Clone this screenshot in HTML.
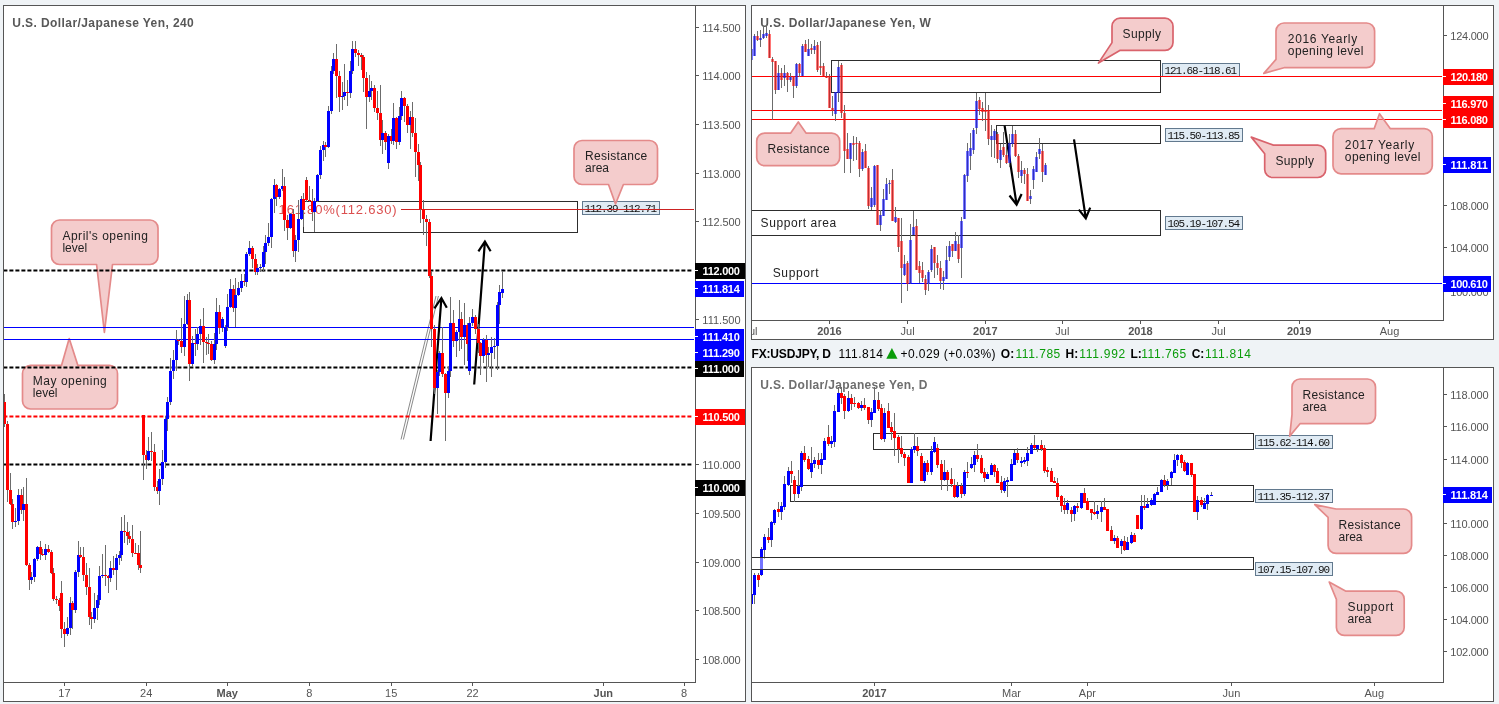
<!DOCTYPE html>
<html><head><meta charset="utf-8"><title>USD/JPY</title>
<style>html,body{margin:0;padding:0;background:#eff3f6;}body{width:1499px;height:704px;overflow:hidden;font-family:"Liberation Sans",sans-serif;}svg{display:block;will-change:transform;}</style>
</head><body>
<svg width="1499" height="704" viewBox="0 0 1499 704">
<rect x="0" y="0" width="1499" height="704" fill="#eff3f6"/>
<defs>
<clipPath id="c1"><rect x="4" y="6" width="691" height="676"/></clipPath>
<clipPath id="c2"><rect x="752" y="6" width="691" height="314"/></clipPath>
<clipPath id="c3"><rect x="752" y="368" width="691" height="314"/></clipPath>
<clipPath id="c2b"><rect x="752" y="321" width="691" height="18"/></clipPath>
</defs>
<rect x="3.5" y="5.5" width="742" height="696" fill="#ffffff" stroke="#555555" stroke-width="1" shape-rendering="crispEdges"/>
<line x1="695.5" y1="5.5" x2="695.5" y2="682.5" stroke="#555555" stroke-width="1" shape-rendering="crispEdges"/>
<line x1="3.5" y1="682.5" x2="695.5" y2="682.5" stroke="#555555" stroke-width="1" shape-rendering="crispEdges"/>
<text x="12.3" y="26.6" font-family="Liberation Sans, sans-serif" font-size="12" fill="#585858" font-weight="bold" textLength="181.5" lengthAdjust="spacing" >U.S. Dollar/Japanese Yen, 240</text>
<line x1="696" y1="27.5" x2="699" y2="27.5" stroke="#555555" stroke-width="1" shape-rendering="crispEdges"/>
<text x="702.3" y="32.1" font-family="Liberation Sans, sans-serif" font-size="11" fill="#555555" textLength="38.3" lengthAdjust="spacing" >114.500</text>
<line x1="696" y1="75.5" x2="699" y2="75.5" stroke="#555555" stroke-width="1" shape-rendering="crispEdges"/>
<text x="702.3" y="80.1" font-family="Liberation Sans, sans-serif" font-size="11" fill="#555555" textLength="38.3" lengthAdjust="spacing" >114.000</text>
<line x1="696" y1="124.5" x2="699" y2="124.5" stroke="#555555" stroke-width="1" shape-rendering="crispEdges"/>
<text x="702.3" y="129.1" font-family="Liberation Sans, sans-serif" font-size="11" fill="#555555" textLength="38.3" lengthAdjust="spacing" >113.500</text>
<line x1="696" y1="173.5" x2="699" y2="173.5" stroke="#555555" stroke-width="1" shape-rendering="crispEdges"/>
<text x="702.3" y="178.1" font-family="Liberation Sans, sans-serif" font-size="11" fill="#555555" textLength="38.3" lengthAdjust="spacing" >113.000</text>
<line x1="696" y1="221.5" x2="699" y2="221.5" stroke="#555555" stroke-width="1" shape-rendering="crispEdges"/>
<text x="702.3" y="226.1" font-family="Liberation Sans, sans-serif" font-size="11" fill="#555555" textLength="38.3" lengthAdjust="spacing" >112.500</text>
<line x1="696" y1="319.5" x2="699" y2="319.5" stroke="#555555" stroke-width="1" shape-rendering="crispEdges"/>
<text x="702.3" y="324.1" font-family="Liberation Sans, sans-serif" font-size="11" fill="#555555" textLength="38.3" lengthAdjust="spacing" >111.500</text>
<line x1="696" y1="464.5" x2="699" y2="464.5" stroke="#555555" stroke-width="1" shape-rendering="crispEdges"/>
<text x="702.3" y="469.1" font-family="Liberation Sans, sans-serif" font-size="11" fill="#555555" textLength="38.3" lengthAdjust="spacing" >110.000</text>
<line x1="696" y1="513.5" x2="699" y2="513.5" stroke="#555555" stroke-width="1" shape-rendering="crispEdges"/>
<text x="702.3" y="518.1" font-family="Liberation Sans, sans-serif" font-size="11" fill="#555555" textLength="38.3" lengthAdjust="spacing" >109.500</text>
<line x1="696" y1="562.5" x2="699" y2="562.5" stroke="#555555" stroke-width="1" shape-rendering="crispEdges"/>
<text x="702.3" y="567.1" font-family="Liberation Sans, sans-serif" font-size="11" fill="#555555" textLength="38.3" lengthAdjust="spacing" >109.000</text>
<line x1="696" y1="610.5" x2="699" y2="610.5" stroke="#555555" stroke-width="1" shape-rendering="crispEdges"/>
<text x="702.3" y="615.1" font-family="Liberation Sans, sans-serif" font-size="11" fill="#555555" textLength="38.3" lengthAdjust="spacing" >108.500</text>
<line x1="696" y1="659.5" x2="699" y2="659.5" stroke="#555555" stroke-width="1" shape-rendering="crispEdges"/>
<text x="702.3" y="664.1" font-family="Liberation Sans, sans-serif" font-size="11" fill="#555555" textLength="38.3" lengthAdjust="spacing" >108.000</text>
<g clip-path="url(#c1)">
<rect x="582.5" y="201.5" width="77" height="13" fill="#e0ebf4" stroke="#62798e" stroke-width="1" shape-rendering="crispEdges"/>
<text x="584.6" y="212" font-family="Liberation Mono, sans-serif" font-size="11" fill="#111111" textLength="72.5" lengthAdjust="spacing" >112.39-112.71</text>
<path d="M59.5 220 L150 220 A8 8 0 0 1 158 228 L158 256.5 A8 8 0 0 1 150 264.5 L112.5 264.5 L104.4 332.5 L96.6 264.5 L59.5 264.5 A8 8 0 0 1 51.5 256.5 L51.5 228 A8 8 0 0 1 59.5 220 Z" fill="rgba(234,153,153,0.5)" stroke="#e48a8a" stroke-width="1.7" stroke-linejoin="round"/>
<text x="62.4" y="240.4" font-family="Liberation Sans, sans-serif" font-size="12" fill="#222222" textLength="85.6" lengthAdjust="spacing" >April's opening</text>
<text x="62.4" y="251.8" font-family="Liberation Sans, sans-serif" font-size="12" fill="#222222" >level</text>
<path d="M30.5 365.4 L61.5 365.4 L69.2 338.5 L77.9 365.4 L109.5 365.4 A8 8 0 0 1 117.5 373.4 L117.5 401 A8 8 0 0 1 109.5 409 L30.5 409 A8 8 0 0 1 22.5 401 L22.5 373.4 A8 8 0 0 1 30.5 365.4 Z" fill="rgba(234,153,153,0.5)" stroke="#e48a8a" stroke-width="1.7" stroke-linejoin="round"/>
<text x="32.8" y="385" font-family="Liberation Sans, sans-serif" font-size="12" fill="#222222" textLength="74" lengthAdjust="spacing" >May opening</text>
<text x="32.8" y="396.6" font-family="Liberation Sans, sans-serif" font-size="12" fill="#222222" >level</text>
<path d="M582 140.5 L649.5 140.5 A8 8 0 0 1 657.5 148.5 L657.5 176.5 A8 8 0 0 1 649.5 184.5 L623.4 184.5 L615.5 204 L608.5 184.5 L582 184.5 A8 8 0 0 1 574 176.5 L574 148.5 A8 8 0 0 1 582 140.5 Z" fill="rgba(234,153,153,0.5)" stroke="#e48a8a" stroke-width="1.7" stroke-linejoin="round"/>
<text x="585" y="159.8" font-family="Liberation Sans, sans-serif" font-size="12" fill="#222222" textLength="62.2" lengthAdjust="spacing" >Resistance</text>
<text x="585" y="171.8" font-family="Liberation Sans, sans-serif" font-size="12" fill="#222222" >area</text>
<line x1="401" y1="439.5" x2="436" y2="296" stroke="#8a8a8a" stroke-width="1" />
<line x1="403.4" y1="439.5" x2="438.4" y2="296" stroke="#8a8a8a" stroke-width="1" />
<rect x="303.5" y="201.5" width="274" height="31" fill="none" stroke="#2d2d2d" stroke-width="1" shape-rendering="crispEdges"/>
<line x1="400.5" y1="209.5" x2="694" y2="209.5" stroke="#cc2222" stroke-width="1" shape-rendering="crispEdges"/>
<text x="278.6" y="214.2" font-family="Liberation Sans, sans-serif" font-size="13" fill="#db4f4f" textLength="118" lengthAdjust="spacing" >161.80%(112.630)</text>
<line x1="4" y1="327.5" x2="694" y2="327.5" stroke="#0000ff" stroke-width="1" shape-rendering="crispEdges"/>
<line x1="4" y1="339.5" x2="694" y2="339.5" stroke="#0000ff" stroke-width="1" shape-rendering="crispEdges"/>
<line x1="3.4" y1="270.43" x2="692" y2="270.43" stroke="#000000" stroke-width="2" stroke-dasharray="4 2"/>
<line x1="3.4" y1="367.43" x2="692" y2="367.43" stroke="#000000" stroke-width="2" stroke-dasharray="4 2"/>
<line x1="3.4" y1="464.43" x2="692" y2="464.43" stroke="#000000" stroke-width="2" stroke-dasharray="4 2"/>
<line x1="3.4" y1="416.43" x2="692" y2="416.43" stroke="#ff0000" stroke-width="2" stroke-dasharray="4 2"/>
<path d="M430.6 441 L441.4 298 M434.4 308.3 L441.4 298 L446.8 307.8" fill="none" stroke="#000" stroke-width="2.2" stroke-linecap="butt" stroke-linejoin="miter"/>
<path d="M474.2 384.5 L484.9 241.5 M478.4 251.3 L484.9 241.5 L490.6 251.3" fill="none" stroke="#000" stroke-width="2.2" stroke-linecap="butt" stroke-linejoin="miter"/>
<g shape-rendering="crispEdges">
<rect x="4" y="394" width="1" height="32.5" fill="#6c6c6c"/>
<rect x="3" y="402" width="3" height="22" fill="#ff0000"/>
<rect x="7" y="420.5" width="1" height="81.1" fill="#6c6c6c"/>
<rect x="6" y="424" width="3" height="66" fill="#ff0000"/>
<rect x="10" y="473.3" width="1" height="32.1" fill="#6c6c6c"/>
<rect x="9" y="490" width="3" height="14" fill="#ff0000"/>
<rect x="12" y="499.4" width="1" height="29.2" fill="#6c6c6c"/>
<rect x="11" y="504" width="3" height="18" fill="#ff0000"/>
<rect x="15" y="508" width="1" height="19.4" fill="#6c6c6c"/>
<rect x="14" y="521" width="3" height="1" fill="#0000ff"/>
<rect x="18" y="489" width="1" height="36" fill="#6c6c6c"/>
<rect x="17" y="495" width="3" height="26" fill="#0000ff"/>
<rect x="21" y="489" width="1" height="25" fill="#6c6c6c"/>
<rect x="20" y="495" width="3" height="15" fill="#ff0000"/>
<rect x="23" y="487" width="1" height="33.7" fill="#6c6c6c"/>
<rect x="22" y="504" width="3" height="6" fill="#0000ff"/>
<rect x="26" y="478" width="1" height="87.7" fill="#6c6c6c"/>
<rect x="25" y="504" width="3" height="61" fill="#ff0000"/>
<rect x="29" y="562.7" width="1" height="27" fill="#6c6c6c"/>
<rect x="28" y="565" width="3" height="15" fill="#ff0000"/>
<rect x="31" y="572.4" width="1" height="11.3" fill="#6c6c6c"/>
<rect x="30" y="577" width="3" height="3" fill="#0000ff"/>
<rect x="34" y="558.4" width="1" height="24" fill="#6c6c6c"/>
<rect x="33" y="559" width="3" height="18" fill="#0000ff"/>
<rect x="37" y="546.3" width="1" height="15.1" fill="#6c6c6c"/>
<rect x="36" y="547" width="3" height="12" fill="#0000ff"/>
<rect x="40" y="541.3" width="1" height="19.1" fill="#6c6c6c"/>
<rect x="39" y="547" width="3" height="7" fill="#ff0000"/>
<rect x="42" y="549.4" width="1" height="6.3" fill="#6c6c6c"/>
<rect x="41" y="554" width="3" height="1" fill="#ff0000"/>
<rect x="45" y="544.3" width="1" height="15.4" fill="#6c6c6c"/>
<rect x="44" y="549" width="3" height="6" fill="#0000ff"/>
<rect x="48" y="545.3" width="1" height="8.1" fill="#6c6c6c"/>
<rect x="47" y="549" width="3" height="3" fill="#ff0000"/>
<rect x="51" y="550.4" width="1" height="24" fill="#6c6c6c"/>
<rect x="50" y="552" width="3" height="21" fill="#ff0000"/>
<rect x="53" y="568.4" width="1" height="33" fill="#6c6c6c"/>
<rect x="52" y="573" width="3" height="26" fill="#ff0000"/>
<rect x="56" y="596.4" width="1" height="7.3" fill="#6c6c6c"/>
<rect x="55" y="599" width="3" height="1" fill="#ff0000"/>
<rect x="59" y="597.7" width="1" height="13.5" fill="#6c6c6c"/>
<rect x="58" y="600" width="3" height="6" fill="#ff0000"/>
<rect x="61" y="580.7" width="1" height="56.9" fill="#6c6c6c"/>
<rect x="60" y="593" width="3" height="36" fill="#ff0000"/>
<rect x="64" y="622" width="1" height="24.9" fill="#6c6c6c"/>
<rect x="63" y="629" width="3" height="5" fill="#ff0000"/>
<rect x="67" y="617.3" width="1" height="18.3" fill="#6c6c6c"/>
<rect x="66" y="628" width="3" height="6" fill="#0000ff"/>
<rect x="70" y="597" width="1" height="37.9" fill="#6c6c6c"/>
<rect x="69" y="603" width="3" height="25" fill="#0000ff"/>
<rect x="72" y="601.2" width="1" height="28.1" fill="#6c6c6c"/>
<rect x="71" y="603" width="3" height="7" fill="#ff0000"/>
<rect x="75" y="570" width="1" height="42.7" fill="#6c6c6c"/>
<rect x="74" y="572" width="3" height="38" fill="#0000ff"/>
<rect x="78" y="541.3" width="1" height="35.7" fill="#6c6c6c"/>
<rect x="77" y="555" width="3" height="17" fill="#0000ff"/>
<rect x="80" y="547.3" width="1" height="11.1" fill="#6c6c6c"/>
<rect x="79" y="555" width="3" height="2" fill="#ff0000"/>
<rect x="83" y="547.3" width="1" height="33.4" fill="#6c6c6c"/>
<rect x="82" y="557" width="3" height="18" fill="#ff0000"/>
<rect x="86" y="563.4" width="1" height="31.3" fill="#6c6c6c"/>
<rect x="85" y="575" width="3" height="12" fill="#ff0000"/>
<rect x="89" y="568" width="1" height="57.4" fill="#6c6c6c"/>
<rect x="88" y="587" width="3" height="30" fill="#ff0000"/>
<rect x="91" y="611.8" width="1" height="17" fill="#6c6c6c"/>
<rect x="90" y="617" width="3" height="2" fill="#ff0000"/>
<rect x="94" y="593.1" width="1" height="30.3" fill="#6c6c6c"/>
<rect x="93" y="608" width="3" height="11" fill="#0000ff"/>
<rect x="97" y="595.3" width="1" height="24.5" fill="#6c6c6c"/>
<rect x="96" y="600" width="3" height="8" fill="#0000ff"/>
<rect x="99" y="566" width="1" height="38.7" fill="#6c6c6c"/>
<rect x="98" y="576" width="3" height="24" fill="#0000ff"/>
<rect x="102" y="554" width="1" height="23.8" fill="#6c6c6c"/>
<rect x="101" y="575" width="3" height="1" fill="#0000ff"/>
<rect x="105" y="545.3" width="1" height="40.7" fill="#6c6c6c"/>
<rect x="104" y="575" width="3" height="1" fill="#ff0000"/>
<rect x="108" y="575" width="1" height="17.7" fill="#6c6c6c"/>
<rect x="107" y="576" width="3" height="2" fill="#ff0000"/>
<rect x="110" y="561.4" width="1" height="20.3" fill="#6c6c6c"/>
<rect x="109" y="568" width="3" height="10" fill="#0000ff"/>
<rect x="113" y="556.3" width="1" height="18.7" fill="#6c6c6c"/>
<rect x="112" y="568" width="3" height="2" fill="#ff0000"/>
<rect x="116" y="554" width="1" height="35.7" fill="#6c6c6c"/>
<rect x="115" y="558" width="3" height="12" fill="#0000ff"/>
<rect x="119" y="551.3" width="1" height="13.4" fill="#6c6c6c"/>
<rect x="118" y="555" width="3" height="3" fill="#0000ff"/>
<rect x="121" y="517" width="1" height="44.4" fill="#6c6c6c"/>
<rect x="120" y="531" width="3" height="24" fill="#0000ff"/>
<rect x="124" y="515.4" width="1" height="28" fill="#6c6c6c"/>
<rect x="123" y="531" width="3" height="1" fill="#ff0000"/>
<rect x="127" y="522" width="1" height="22.8" fill="#6c6c6c"/>
<rect x="126" y="532" width="3" height="4" fill="#ff0000"/>
<rect x="129" y="531.4" width="1" height="12" fill="#6c6c6c"/>
<rect x="128" y="536" width="3" height="3" fill="#ff0000"/>
<rect x="132" y="525" width="1" height="31.8" fill="#6c6c6c"/>
<rect x="131" y="539" width="3" height="14" fill="#ff0000"/>
<rect x="135" y="542.8" width="1" height="11.6" fill="#6c6c6c"/>
<rect x="134" y="553" width="3" height="1" fill="#ff0000"/>
<rect x="138" y="544.8" width="1" height="24.9" fill="#6c6c6c"/>
<rect x="137" y="553" width="3" height="12" fill="#ff0000"/>
<rect x="140" y="531.1" width="1" height="42.3" fill="#6c6c6c"/>
<rect x="139" y="565" width="3" height="3" fill="#ff0000"/>
<rect x="143" y="415" width="1" height="64.8" fill="#6c6c6c"/>
<rect x="142" y="415" width="3" height="40" fill="#ff0000"/>
<rect x="146" y="449.7" width="1" height="19.7" fill="#6c6c6c"/>
<rect x="145" y="455" width="3" height="5" fill="#ff0000"/>
<rect x="148" y="437.1" width="1" height="24.3" fill="#6c6c6c"/>
<rect x="147" y="451" width="3" height="9" fill="#0000ff"/>
<rect x="151" y="432" width="1" height="28.7" fill="#6c6c6c"/>
<rect x="150" y="451" width="3" height="1" fill="#ff0000"/>
<rect x="154" y="444.1" width="1" height="46.7" fill="#6c6c6c"/>
<rect x="153" y="452" width="3" height="35" fill="#ff0000"/>
<rect x="157" y="480.8" width="1" height="13" fill="#6c6c6c"/>
<rect x="156" y="487" width="3" height="4" fill="#ff0000"/>
<rect x="159" y="469.4" width="1" height="35.3" fill="#6c6c6c"/>
<rect x="158" y="479" width="3" height="12" fill="#0000ff"/>
<rect x="162" y="450" width="1" height="35.4" fill="#6c6c6c"/>
<rect x="161" y="462" width="3" height="17" fill="#0000ff"/>
<rect x="165" y="416.4" width="1" height="51.9" fill="#6c6c6c"/>
<rect x="164" y="419" width="3" height="43" fill="#0000ff"/>
<rect x="167" y="397.4" width="1" height="34" fill="#6c6c6c"/>
<rect x="166" y="402" width="3" height="17" fill="#0000ff"/>
<rect x="170" y="358" width="1" height="47.4" fill="#6c6c6c"/>
<rect x="169" y="371" width="3" height="31" fill="#0000ff"/>
<rect x="173" y="350" width="1" height="29.4" fill="#6c6c6c"/>
<rect x="172" y="360" width="3" height="11" fill="#0000ff"/>
<rect x="176" y="330" width="1" height="40.7" fill="#6c6c6c"/>
<rect x="175" y="340" width="3" height="20" fill="#0000ff"/>
<rect x="178" y="339" width="1" height="6" fill="#6c6c6c"/>
<rect x="177" y="340" width="3" height="1" fill="#ff0000"/>
<rect x="181" y="318" width="1" height="35.4" fill="#6c6c6c"/>
<rect x="180" y="341" width="3" height="6" fill="#ff0000"/>
<rect x="184" y="295.8" width="1" height="60.2" fill="#6c6c6c"/>
<rect x="183" y="324" width="3" height="23" fill="#0000ff"/>
<rect x="187" y="293.8" width="1" height="31.2" fill="#6c6c6c"/>
<rect x="186" y="300" width="3" height="24" fill="#0000ff"/>
<rect x="189" y="291.8" width="1" height="89" fill="#6c6c6c"/>
<rect x="188" y="300" width="3" height="64" fill="#ff0000"/>
<rect x="192" y="336" width="1" height="31.4" fill="#6c6c6c"/>
<rect x="191" y="343" width="3" height="21" fill="#0000ff"/>
<rect x="195" y="329.4" width="1" height="26.6" fill="#6c6c6c"/>
<rect x="194" y="343" width="3" height="1" fill="#ff0000"/>
<rect x="197" y="326.7" width="1" height="23.3" fill="#6c6c6c"/>
<rect x="196" y="334" width="3" height="10" fill="#0000ff"/>
<rect x="200" y="319.1" width="1" height="26.3" fill="#6c6c6c"/>
<rect x="199" y="326" width="3" height="8" fill="#0000ff"/>
<rect x="203" y="308" width="1" height="55.4" fill="#6c6c6c"/>
<rect x="202" y="326" width="3" height="16" fill="#ff0000"/>
<rect x="206" y="336.6" width="1" height="18.8" fill="#6c6c6c"/>
<rect x="205" y="342" width="3" height="1" fill="#ff0000"/>
<rect x="208" y="334" width="1" height="20" fill="#6c6c6c"/>
<rect x="207" y="343" width="3" height="1" fill="#ff0000"/>
<rect x="211" y="341" width="1" height="19.7" fill="#6c6c6c"/>
<rect x="210" y="344" width="3" height="16" fill="#ff0000"/>
<rect x="214" y="333.4" width="1" height="30.4" fill="#6c6c6c"/>
<rect x="213" y="344" width="3" height="16" fill="#0000ff"/>
<rect x="216" y="297.8" width="1" height="52.5" fill="#6c6c6c"/>
<rect x="215" y="312" width="3" height="32" fill="#0000ff"/>
<rect x="219" y="304.8" width="1" height="29" fill="#6c6c6c"/>
<rect x="218" y="312" width="3" height="16" fill="#ff0000"/>
<rect x="222" y="317" width="1" height="15" fill="#6c6c6c"/>
<rect x="221" y="319" width="3" height="9" fill="#0000ff"/>
<rect x="225" y="325.4" width="1" height="22.3" fill="#6c6c6c"/>
<rect x="224" y="327" width="3" height="19" fill="#0000ff"/>
<rect x="227" y="294.4" width="1" height="37" fill="#6c6c6c"/>
<rect x="226" y="307" width="3" height="20" fill="#0000ff"/>
<rect x="230" y="279.1" width="1" height="29.3" fill="#6c6c6c"/>
<rect x="229" y="289" width="3" height="18" fill="#0000ff"/>
<rect x="233" y="285.1" width="1" height="26.7" fill="#6c6c6c"/>
<rect x="232" y="289" width="3" height="19" fill="#ff0000"/>
<rect x="235" y="278.1" width="1" height="48.9" fill="#6c6c6c"/>
<rect x="234" y="295" width="3" height="13" fill="#0000ff"/>
<rect x="238" y="281.7" width="1" height="14.7" fill="#6c6c6c"/>
<rect x="237" y="288" width="3" height="7" fill="#0000ff"/>
<rect x="241" y="274.4" width="1" height="17.4" fill="#6c6c6c"/>
<rect x="240" y="281" width="3" height="7" fill="#0000ff"/>
<rect x="244" y="273.7" width="1" height="12" fill="#6c6c6c"/>
<rect x="243" y="281" width="3" height="1" fill="#ff0000"/>
<rect x="246" y="252.4" width="1" height="34.6" fill="#6c6c6c"/>
<rect x="245" y="254" width="3" height="28" fill="#0000ff"/>
<rect x="249" y="241" width="1" height="15.1" fill="#6c6c6c"/>
<rect x="248" y="248" width="3" height="6" fill="#0000ff"/>
<rect x="252" y="245.7" width="1" height="22" fill="#6c6c6c"/>
<rect x="251" y="248" width="3" height="11" fill="#ff0000"/>
<rect x="255" y="253.7" width="1" height="21.4" fill="#6c6c6c"/>
<rect x="254" y="259" width="3" height="13" fill="#ff0000"/>
<rect x="257" y="263.7" width="1" height="11.4" fill="#6c6c6c"/>
<rect x="256" y="268" width="3" height="4" fill="#0000ff"/>
<rect x="260" y="264.4" width="1" height="7.3" fill="#6c6c6c"/>
<rect x="259" y="267" width="3" height="1" fill="#0000ff"/>
<rect x="263" y="246.4" width="1" height="25.8" fill="#6c6c6c"/>
<rect x="262" y="252" width="3" height="15" fill="#0000ff"/>
<rect x="265" y="235" width="1" height="28.7" fill="#6c6c6c"/>
<rect x="264" y="243" width="3" height="9" fill="#0000ff"/>
<rect x="268" y="222.8" width="1" height="22.9" fill="#6c6c6c"/>
<rect x="267" y="237" width="3" height="6" fill="#0000ff"/>
<rect x="271" y="198.1" width="1" height="49.6" fill="#6c6c6c"/>
<rect x="270" y="199" width="3" height="38" fill="#0000ff"/>
<rect x="274" y="179.1" width="1" height="33.7" fill="#6c6c6c"/>
<rect x="273" y="185" width="3" height="14" fill="#0000ff"/>
<rect x="276" y="184.1" width="1" height="21.9" fill="#6c6c6c"/>
<rect x="275" y="185" width="3" height="12" fill="#ff0000"/>
<rect x="279" y="188" width="1" height="10.7" fill="#6c6c6c"/>
<rect x="278" y="189" width="3" height="8" fill="#0000ff"/>
<rect x="282" y="169.4" width="1" height="21.6" fill="#6c6c6c"/>
<rect x="281" y="186" width="3" height="3" fill="#0000ff"/>
<rect x="284" y="177.4" width="1" height="53.4" fill="#6c6c6c"/>
<rect x="283" y="186" width="3" height="34" fill="#ff0000"/>
<rect x="287" y="214.7" width="1" height="24.8" fill="#6c6c6c"/>
<rect x="286" y="220" width="3" height="8" fill="#ff0000"/>
<rect x="290" y="213.1" width="1" height="15.7" fill="#6c6c6c"/>
<rect x="289" y="214" width="3" height="14" fill="#0000ff"/>
<rect x="293" y="209.1" width="1" height="47.9" fill="#6c6c6c"/>
<rect x="292" y="214" width="3" height="37" fill="#ff0000"/>
<rect x="295" y="235.4" width="1" height="26.3" fill="#6c6c6c"/>
<rect x="294" y="240" width="3" height="11" fill="#0000ff"/>
<rect x="298" y="200" width="1" height="51.7" fill="#6c6c6c"/>
<rect x="297" y="219" width="3" height="21" fill="#0000ff"/>
<rect x="301" y="196" width="1" height="24.2" fill="#6c6c6c"/>
<rect x="300" y="199" width="3" height="20" fill="#0000ff"/>
<rect x="303" y="193.4" width="1" height="34" fill="#6c6c6c"/>
<rect x="302" y="199" width="3" height="11" fill="#ff0000"/>
<rect x="306" y="177.4" width="1" height="24.6" fill="#6c6c6c"/>
<rect x="305" y="180" width="3" height="20" fill="#ff0000"/>
<rect x="309" y="186" width="1" height="16" fill="#6c6c6c"/>
<rect x="308" y="200" width="3" height="1" fill="#ff0000"/>
<rect x="312" y="189.4" width="1" height="31.4" fill="#6c6c6c"/>
<rect x="311" y="201" width="3" height="11" fill="#ff0000"/>
<rect x="314" y="198.4" width="1" height="33.6" fill="#6c6c6c"/>
<rect x="313" y="201" width="3" height="11" fill="#0000ff"/>
<rect x="317" y="174.1" width="1" height="28.3" fill="#6c6c6c"/>
<rect x="316" y="175" width="3" height="26" fill="#0000ff"/>
<rect x="320" y="146.2" width="1" height="33.2" fill="#6c6c6c"/>
<rect x="319" y="150" width="3" height="25" fill="#0000ff"/>
<rect x="323" y="141.3" width="1" height="19.4" fill="#6c6c6c"/>
<rect x="322" y="145" width="3" height="5" fill="#0000ff"/>
<rect x="325" y="142.3" width="1" height="14.4" fill="#6c6c6c"/>
<rect x="324" y="145" width="3" height="2" fill="#ff0000"/>
<rect x="328" y="105.8" width="1" height="42" fill="#6c6c6c"/>
<rect x="327" y="111" width="3" height="36" fill="#0000ff"/>
<rect x="331" y="66.4" width="1" height="47.8" fill="#6c6c6c"/>
<rect x="330" y="71" width="3" height="40" fill="#0000ff"/>
<rect x="333" y="53" width="1" height="21" fill="#6c6c6c"/>
<rect x="332" y="59" width="3" height="12" fill="#0000ff"/>
<rect x="336" y="44" width="1" height="54.4" fill="#6c6c6c"/>
<rect x="335" y="59" width="3" height="17" fill="#ff0000"/>
<rect x="339" y="71" width="1" height="41.4" fill="#6c6c6c"/>
<rect x="338" y="76" width="3" height="21" fill="#ff0000"/>
<rect x="342" y="81.7" width="1" height="28.7" fill="#6c6c6c"/>
<rect x="341" y="96" width="3" height="1" fill="#0000ff"/>
<rect x="344" y="64.1" width="1" height="36.3" fill="#6c6c6c"/>
<rect x="343" y="92" width="3" height="4" fill="#0000ff"/>
<rect x="347" y="80.4" width="1" height="26" fill="#6c6c6c"/>
<rect x="346" y="92" width="3" height="1" fill="#ff0000"/>
<rect x="350" y="61" width="1" height="37.4" fill="#6c6c6c"/>
<rect x="349" y="71" width="3" height="22" fill="#0000ff"/>
<rect x="352" y="41" width="1" height="33" fill="#6c6c6c"/>
<rect x="351" y="49" width="3" height="22" fill="#0000ff"/>
<rect x="355" y="41" width="1" height="16" fill="#6c6c6c"/>
<rect x="354" y="49" width="3" height="4" fill="#ff0000"/>
<rect x="358" y="50.4" width="1" height="15.3" fill="#6c6c6c"/>
<rect x="357" y="53" width="3" height="2" fill="#ff0000"/>
<rect x="361" y="53" width="1" height="16.7" fill="#6c6c6c"/>
<rect x="360" y="55" width="3" height="2" fill="#ff0000"/>
<rect x="363" y="55" width="1" height="36.7" fill="#6c6c6c"/>
<rect x="362" y="57" width="3" height="21" fill="#ff0000"/>
<rect x="366" y="71.7" width="1" height="57.1" fill="#6c6c6c"/>
<rect x="365" y="78" width="3" height="19" fill="#ff0000"/>
<rect x="369" y="75" width="1" height="26.7" fill="#6c6c6c"/>
<rect x="368" y="91" width="3" height="6" fill="#0000ff"/>
<rect x="371" y="81" width="1" height="19.4" fill="#6c6c6c"/>
<rect x="370" y="88" width="3" height="3" fill="#0000ff"/>
<rect x="374" y="85" width="1" height="26.8" fill="#6c6c6c"/>
<rect x="373" y="88" width="3" height="20" fill="#ff0000"/>
<rect x="377" y="91" width="1" height="28.9" fill="#6c6c6c"/>
<rect x="376" y="108" width="3" height="5" fill="#ff0000"/>
<rect x="380" y="85" width="1" height="60.8" fill="#6c6c6c"/>
<rect x="379" y="113" width="3" height="27" fill="#ff0000"/>
<rect x="382" y="120" width="1" height="33.7" fill="#6c6c6c"/>
<rect x="381" y="133" width="3" height="7" fill="#0000ff"/>
<rect x="385" y="131.3" width="1" height="18.4" fill="#6c6c6c"/>
<rect x="384" y="133" width="3" height="9" fill="#ff0000"/>
<rect x="388" y="134.3" width="1" height="34.3" fill="#6c6c6c"/>
<rect x="387" y="136" width="3" height="27" fill="#0000ff"/>
<rect x="391" y="128.8" width="1" height="14.9" fill="#6c6c6c"/>
<rect x="390" y="136" width="3" height="5" fill="#ff0000"/>
<rect x="393" y="103" width="1" height="41.8" fill="#6c6c6c"/>
<rect x="392" y="118" width="3" height="23" fill="#0000ff"/>
<rect x="396" y="116.9" width="1" height="31.8" fill="#6c6c6c"/>
<rect x="395" y="118" width="3" height="24" fill="#ff0000"/>
<rect x="399" y="107" width="1" height="37.7" fill="#6c6c6c"/>
<rect x="398" y="116" width="3" height="26" fill="#0000ff"/>
<rect x="401" y="91" width="1" height="29.4" fill="#6c6c6c"/>
<rect x="400" y="98" width="3" height="18" fill="#0000ff"/>
<rect x="404" y="97" width="1" height="24.9" fill="#6c6c6c"/>
<rect x="403" y="98" width="3" height="8" fill="#ff0000"/>
<rect x="407" y="104" width="1" height="28.8" fill="#6c6c6c"/>
<rect x="406" y="106" width="3" height="19" fill="#ff0000"/>
<rect x="410" y="110.9" width="1" height="37.8" fill="#6c6c6c"/>
<rect x="409" y="117" width="3" height="8" fill="#0000ff"/>
<rect x="412" y="102" width="1" height="34.6" fill="#6c6c6c"/>
<rect x="411" y="117" width="3" height="16" fill="#ff0000"/>
<rect x="415" y="117.9" width="1" height="58.8" fill="#6c6c6c"/>
<rect x="414" y="133" width="3" height="19" fill="#ff0000"/>
<rect x="418" y="143.7" width="1" height="37" fill="#6c6c6c"/>
<rect x="417" y="152" width="3" height="13" fill="#ff0000"/>
<rect x="420" y="161.6" width="1" height="61.2" fill="#6c6c6c"/>
<rect x="419" y="165" width="3" height="44" fill="#ff0000"/>
<rect x="423" y="200" width="1" height="34.8" fill="#6c6c6c"/>
<rect x="422" y="209" width="3" height="10" fill="#ff0000"/>
<rect x="426" y="215" width="1" height="30.6" fill="#6c6c6c"/>
<rect x="425" y="219" width="3" height="3" fill="#ff0000"/>
<rect x="429" y="219.4" width="1" height="58.1" fill="#6c6c6c"/>
<rect x="428" y="222" width="3" height="54" fill="#ff0000"/>
<rect x="431" y="270.5" width="1" height="76.1" fill="#6c6c6c"/>
<rect x="430" y="276" width="3" height="53" fill="#ff0000"/>
<rect x="434" y="325.4" width="1" height="68.5" fill="#6c6c6c"/>
<rect x="433" y="329" width="3" height="59" fill="#ff0000"/>
<rect x="437" y="370" width="1" height="44.4" fill="#6c6c6c"/>
<rect x="436" y="372" width="3" height="16" fill="#0000ff"/>
<rect x="439" y="350.9" width="1" height="25.1" fill="#6c6c6c"/>
<rect x="438" y="353" width="3" height="19" fill="#0000ff"/>
<rect x="442" y="326.7" width="1" height="49.9" fill="#6c6c6c"/>
<rect x="441" y="353" width="3" height="21" fill="#ff0000"/>
<rect x="445" y="372.6" width="1" height="68.4" fill="#6c6c6c"/>
<rect x="444" y="374" width="3" height="19" fill="#ff0000"/>
<rect x="448" y="367.3" width="1" height="30.4" fill="#6c6c6c"/>
<rect x="447" y="371" width="3" height="22" fill="#0000ff"/>
<rect x="450" y="296.9" width="1" height="80.4" fill="#6c6c6c"/>
<rect x="449" y="323" width="3" height="48" fill="#0000ff"/>
<rect x="453" y="309.8" width="1" height="36.8" fill="#6c6c6c"/>
<rect x="452" y="323" width="3" height="18" fill="#ff0000"/>
<rect x="456" y="330.2" width="1" height="26.7" fill="#6c6c6c"/>
<rect x="455" y="332" width="3" height="9" fill="#0000ff"/>
<rect x="459" y="299.9" width="1" height="51" fill="#6c6c6c"/>
<rect x="458" y="319" width="3" height="13" fill="#0000ff"/>
<rect x="461" y="311.8" width="1" height="37.2" fill="#6c6c6c"/>
<rect x="460" y="319" width="3" height="18" fill="#ff0000"/>
<rect x="464" y="302.9" width="1" height="62" fill="#6c6c6c"/>
<rect x="463" y="325" width="3" height="12" fill="#0000ff"/>
<rect x="467" y="323.2" width="1" height="37.7" fill="#6c6c6c"/>
<rect x="466" y="325" width="3" height="19" fill="#ff0000"/>
<rect x="469" y="316.8" width="1" height="57.8" fill="#6c6c6c"/>
<rect x="468" y="323" width="3" height="48" fill="#0000ff"/>
<rect x="472" y="308.8" width="1" height="17.4" fill="#6c6c6c"/>
<rect x="471" y="317" width="3" height="6" fill="#0000ff"/>
<rect x="475" y="315" width="1" height="18.7" fill="#6c6c6c"/>
<rect x="474" y="317" width="3" height="12" fill="#ff0000"/>
<rect x="478" y="323.7" width="1" height="29.3" fill="#6c6c6c"/>
<rect x="477" y="329" width="3" height="14" fill="#ff0000"/>
<rect x="480" y="342.1" width="1" height="32.7" fill="#6c6c6c"/>
<rect x="479" y="343" width="3" height="13" fill="#ff0000"/>
<rect x="483" y="338" width="1" height="24.9" fill="#6c6c6c"/>
<rect x="482" y="340" width="3" height="16" fill="#0000ff"/>
<rect x="486" y="334.7" width="1" height="47" fill="#6c6c6c"/>
<rect x="485" y="340" width="3" height="15" fill="#ff0000"/>
<rect x="488" y="347.4" width="1" height="19.9" fill="#6c6c6c"/>
<rect x="487" y="353" width="3" height="2" fill="#0000ff"/>
<rect x="491" y="336.7" width="1" height="40.1" fill="#6c6c6c"/>
<rect x="490" y="347" width="3" height="6" fill="#0000ff"/>
<rect x="494" y="338" width="1" height="20.9" fill="#6c6c6c"/>
<rect x="493" y="346" width="3" height="1" fill="#0000ff"/>
<rect x="497" y="302" width="1" height="67.8" fill="#6c6c6c"/>
<rect x="496" y="305" width="3" height="41" fill="#0000ff"/>
<rect x="499" y="285" width="1" height="38.7" fill="#6c6c6c"/>
<rect x="498" y="292" width="3" height="13" fill="#0000ff"/>
<rect x="502" y="270.6" width="1" height="27.3" fill="#6c6c6c"/>
<rect x="501" y="289" width="3" height="4" fill="#0000ff"/>
</g>
</g>
<rect x="695" y="263" width="50" height="16" fill="#000000" shape-rendering="crispEdges"/>
<line x1="695" y1="270.5" x2="698" y2="270.5" stroke="#ffffff" stroke-width="1" shape-rendering="crispEdges"/>
<text x="702.5" y="275" font-family="Liberation Sans, sans-serif" font-size="11" fill="#ffffff" font-weight="bold" textLength="37.4" lengthAdjust="spacing" >112.000</text>
<rect x="695" y="281" width="49" height="16" fill="#0000ff" shape-rendering="crispEdges"/>
<line x1="695" y1="288.5" x2="698" y2="288.5" stroke="#ffffff" stroke-width="1" shape-rendering="crispEdges"/>
<text x="702.5" y="293" font-family="Liberation Sans, sans-serif" font-size="11" fill="#ffffff" font-weight="bold" textLength="37.4" lengthAdjust="spacing" >111.814</text>
<rect x="695" y="329" width="49" height="16" fill="#0000ff" shape-rendering="crispEdges"/>
<line x1="695" y1="336.5" x2="698" y2="336.5" stroke="#ffffff" stroke-width="1" shape-rendering="crispEdges"/>
<text x="702.5" y="341" font-family="Liberation Sans, sans-serif" font-size="11" fill="#ffffff" font-weight="bold" textLength="37.4" lengthAdjust="spacing" >111.410</text>
<rect x="695" y="345" width="49" height="16" fill="#0000ff" shape-rendering="crispEdges"/>
<line x1="695" y1="352.5" x2="698" y2="352.5" stroke="#ffffff" stroke-width="1" shape-rendering="crispEdges"/>
<text x="702.5" y="357" font-family="Liberation Sans, sans-serif" font-size="11" fill="#ffffff" font-weight="bold" textLength="37.4" lengthAdjust="spacing" >111.290</text>
<rect x="695" y="361" width="49" height="16" fill="#000000" shape-rendering="crispEdges"/>
<line x1="695" y1="368.5" x2="698" y2="368.5" stroke="#ffffff" stroke-width="1" shape-rendering="crispEdges"/>
<text x="702.5" y="373" font-family="Liberation Sans, sans-serif" font-size="11" fill="#ffffff" font-weight="bold" textLength="37.4" lengthAdjust="spacing" >111.000</text>
<rect x="695" y="409" width="50" height="16" fill="#ff0000" shape-rendering="crispEdges"/>
<line x1="695" y1="416.5" x2="698" y2="416.5" stroke="#ffffff" stroke-width="1" shape-rendering="crispEdges"/>
<text x="702.5" y="421" font-family="Liberation Sans, sans-serif" font-size="11" fill="#ffffff" font-weight="bold" textLength="37.4" lengthAdjust="spacing" >110.500</text>
<rect x="695" y="480" width="50" height="16" fill="#000000" shape-rendering="crispEdges"/>
<line x1="695" y1="487.5" x2="698" y2="487.5" stroke="#ffffff" stroke-width="1" shape-rendering="crispEdges"/>
<text x="702.5" y="492" font-family="Liberation Sans, sans-serif" font-size="11" fill="#ffffff" font-weight="bold" textLength="37.4" lengthAdjust="spacing" >110.000</text>
<line x1="64.5" y1="683" x2="64.5" y2="686" stroke="#555555" stroke-width="1" shape-rendering="crispEdges"/>
<text x="64.4" y="697" font-family="Liberation Sans, sans-serif" font-size="11" fill="#555555" text-anchor="middle" >17</text>
<line x1="146.5" y1="683" x2="146.5" y2="686" stroke="#555555" stroke-width="1" shape-rendering="crispEdges"/>
<text x="146.2" y="697" font-family="Liberation Sans, sans-serif" font-size="11" fill="#555555" text-anchor="middle" >24</text>
<line x1="227.5" y1="683" x2="227.5" y2="686" stroke="#555555" stroke-width="1" shape-rendering="crispEdges"/>
<text x="227.2" y="697" font-family="Liberation Sans, sans-serif" font-size="11" fill="#555555" font-weight="bold" text-anchor="middle" >May</text>
<line x1="309.5" y1="683" x2="309.5" y2="686" stroke="#555555" stroke-width="1" shape-rendering="crispEdges"/>
<text x="309.4" y="697" font-family="Liberation Sans, sans-serif" font-size="11" fill="#555555" text-anchor="middle" >8</text>
<line x1="391.5" y1="683" x2="391.5" y2="686" stroke="#555555" stroke-width="1" shape-rendering="crispEdges"/>
<text x="391.2" y="697" font-family="Liberation Sans, sans-serif" font-size="11" fill="#555555" text-anchor="middle" >15</text>
<line x1="472.5" y1="683" x2="472.5" y2="686" stroke="#555555" stroke-width="1" shape-rendering="crispEdges"/>
<text x="472.5" y="697" font-family="Liberation Sans, sans-serif" font-size="11" fill="#555555" text-anchor="middle" >22</text>
<line x1="603.5" y1="683" x2="603.5" y2="686" stroke="#555555" stroke-width="1" shape-rendering="crispEdges"/>
<text x="603.3" y="697" font-family="Liberation Sans, sans-serif" font-size="11" fill="#555555" font-weight="bold" text-anchor="middle" >Jun</text>
<line x1="684.5" y1="683" x2="684.5" y2="686" stroke="#555555" stroke-width="1" shape-rendering="crispEdges"/>
<text x="684" y="697" font-family="Liberation Sans, sans-serif" font-size="11" fill="#555555" text-anchor="middle" >8</text>
<rect x="751.5" y="5.5" width="742" height="334" fill="#ffffff" stroke="#555555" stroke-width="1" shape-rendering="crispEdges"/>
<line x1="1443.5" y1="5.5" x2="1443.5" y2="320.5" stroke="#555555" stroke-width="1" shape-rendering="crispEdges"/>
<line x1="751.5" y1="320.5" x2="1443.5" y2="320.5" stroke="#555555" stroke-width="1" shape-rendering="crispEdges"/>
<text x="760.3" y="26.6" font-family="Liberation Sans, sans-serif" font-size="12" fill="#585858" font-weight="bold" textLength="170.5" lengthAdjust="spacing" >U.S. Dollar/Japanese Yen, W</text>
<line x1="1444" y1="35.5" x2="1447" y2="35.5" stroke="#555555" stroke-width="1" shape-rendering="crispEdges"/>
<text x="1450.3" y="40.1" font-family="Liberation Sans, sans-serif" font-size="11" fill="#555555" textLength="38.3" lengthAdjust="spacing" >124.000</text>
<line x1="1444" y1="205.5" x2="1447" y2="205.5" stroke="#555555" stroke-width="1" shape-rendering="crispEdges"/>
<text x="1450.3" y="210.1" font-family="Liberation Sans, sans-serif" font-size="11" fill="#555555" textLength="38.3" lengthAdjust="spacing" >108.000</text>
<line x1="1444" y1="247.5" x2="1447" y2="247.5" stroke="#555555" stroke-width="1" shape-rendering="crispEdges"/>
<text x="1450.3" y="252.1" font-family="Liberation Sans, sans-serif" font-size="11" fill="#555555" textLength="38.3" lengthAdjust="spacing" >104.000</text>
<text x="1450.3" y="295.5" font-family="Liberation Sans, sans-serif" font-size="11" fill="#555555" textLength="38.3" lengthAdjust="spacing" >100.000</text>
<g clip-path="url(#c2)">
<rect x="831.5" y="60.5" width="329" height="32" fill="none" stroke="#2d2d2d" stroke-width="1" shape-rendering="crispEdges"/>
<rect x="996.5" y="125.5" width="164" height="18" fill="none" stroke="#2d2d2d" stroke-width="1" shape-rendering="crispEdges"/>
<rect x="750.5" y="210.5" width="410" height="25" fill="none" stroke="#2d2d2d" stroke-width="1" shape-rendering="crispEdges"/>
<line x1="752" y1="76.5" x2="1442" y2="76.5" stroke="#ff0000" stroke-width="1" shape-rendering="crispEdges"/>
<line x1="752" y1="110.5" x2="1442" y2="110.5" stroke="#ff0000" stroke-width="1" shape-rendering="crispEdges"/>
<line x1="752" y1="119.5" x2="1442" y2="119.5" stroke="#ff0000" stroke-width="1" shape-rendering="crispEdges"/>
<line x1="752" y1="283.5" x2="1442" y2="283.5" stroke="#0000ff" stroke-width="1" shape-rendering="crispEdges"/>
<path d="M1004.6 125.7 L1016.6 204.6 M1009.5 195.5 L1016.6 204.6 L1021.6 194" fill="none" stroke="#000" stroke-width="2.2" stroke-linecap="butt" stroke-linejoin="miter"/>
<path d="M1074 139.3 L1085.8 218.4 M1078.8 209.6 L1085.8 218.4 L1090.2 207.7" fill="none" stroke="#000" stroke-width="2.2" stroke-linecap="butt" stroke-linejoin="miter"/>
<text x="760.6" y="227.3" font-family="Liberation Sans, sans-serif" font-size="12" fill="#222222" textLength="75.7" lengthAdjust="spacing" >Support area</text>
<text x="772.7" y="277.2" font-family="Liberation Sans, sans-serif" font-size="12" fill="#222222" textLength="45.9" lengthAdjust="spacing" >Support</text>
<g shape-rendering="crispEdges">
<rect x="751" y="47.7" width="1" height="12.68" fill="#6c6c6c"/>
<rect x="750" y="49" width="3" height="11" fill="#0000ff" fill-opacity="0.54"/>
<rect x="754" y="34.35" width="1" height="21.36" fill="#6c6c6c"/>
<rect x="753" y="36" width="3" height="20" fill="#0000ff" fill-opacity="0.54"/>
<rect x="757" y="31.01" width="1" height="10.01" fill="#6c6c6c"/>
<rect x="756" y="36" width="3" height="4" fill="#ff0000" fill-opacity="0.54"/>
<rect x="760" y="30.34" width="1" height="16.69" fill="#6c6c6c"/>
<rect x="759" y="38" width="3" height="2" fill="#0000ff" fill-opacity="0.54"/>
<rect x="763" y="26.34" width="1" height="12.68" fill="#6c6c6c"/>
<rect x="762" y="34" width="3" height="4" fill="#0000ff" fill-opacity="0.54"/>
<rect x="766" y="25" width="1" height="12.68" fill="#6c6c6c"/>
<rect x="765" y="33" width="3" height="3" fill="#0000ff" fill-opacity="0.54"/>
<rect x="769" y="30.34" width="1" height="28.04" fill="#6c6c6c"/>
<rect x="768" y="34" width="3" height="24" fill="#ff0000" fill-opacity="0.54"/>
<rect x="772" y="57.04" width="1" height="62.48" fill="#6c6c6c"/>
<rect x="771" y="59" width="3" height="3" fill="#ff0000" fill-opacity="0.54"/>
<rect x="775" y="61.05" width="1" height="32.71" fill="#6c6c6c"/>
<rect x="774" y="61" width="3" height="29" fill="#ff0000" fill-opacity="0.54"/>
<rect x="778" y="65.05" width="1" height="25.37" fill="#6c6c6c"/>
<rect x="777" y="73" width="3" height="17" fill="#0000ff" fill-opacity="0.54"/>
<rect x="781" y="68.39" width="1" height="20.03" fill="#6c6c6c"/>
<rect x="780" y="73" width="3" height="7" fill="#ff0000" fill-opacity="0.54"/>
<rect x="784" y="65.05" width="1" height="21.36" fill="#6c6c6c"/>
<rect x="783" y="73" width="3" height="5" fill="#0000ff" fill-opacity="0.54"/>
<rect x="787" y="71.73" width="1" height="20.69" fill="#6c6c6c"/>
<rect x="786" y="73" width="3" height="7" fill="#ff0000" fill-opacity="0.54"/>
<rect x="790" y="73.06" width="1" height="9.35" fill="#6c6c6c"/>
<rect x="789" y="77" width="3" height="3" fill="#0000ff" fill-opacity="0.54"/>
<rect x="793" y="75.73" width="1" height="22.7" fill="#6c6c6c"/>
<rect x="792" y="76" width="3" height="10" fill="#ff0000" fill-opacity="0.54"/>
<rect x="796" y="63.05" width="1" height="24.7" fill="#6c6c6c"/>
<rect x="795" y="64" width="3" height="22" fill="#0000ff" fill-opacity="0.54"/>
<rect x="799" y="63.05" width="1" height="14.29" fill="#6c6c6c"/>
<rect x="798" y="64" width="3" height="9" fill="#ff0000" fill-opacity="0.54"/>
<rect x="802" y="44.36" width="1" height="31.38" fill="#6c6c6c"/>
<rect x="801" y="46" width="3" height="30" fill="#0000ff" fill-opacity="0.54"/>
<rect x="805" y="40.35" width="1" height="12.02" fill="#6c6c6c"/>
<rect x="804" y="44" width="3" height="8" fill="#ff0000" fill-opacity="0.54"/>
<rect x="808" y="39.02" width="1" height="16.69" fill="#6c6c6c"/>
<rect x="807" y="49" width="3" height="7" fill="#0000ff" fill-opacity="0.54"/>
<rect x="811" y="44.36" width="1" height="10.01" fill="#6c6c6c"/>
<rect x="810" y="48" width="3" height="2" fill="#ff0000" fill-opacity="0.54"/>
<rect x="814" y="40.35" width="1" height="13.35" fill="#6c6c6c"/>
<rect x="813" y="46" width="3" height="4" fill="#0000ff" fill-opacity="0.54"/>
<rect x="817" y="42.36" width="1" height="29.37" fill="#6c6c6c"/>
<rect x="816" y="45" width="3" height="25" fill="#ff0000" fill-opacity="0.54"/>
<rect x="820" y="41.02" width="1" height="34.05" fill="#6c6c6c"/>
<rect x="819" y="66" width="3" height="2" fill="#ff0000" fill-opacity="0.54"/>
<rect x="823" y="63.05" width="1" height="13.35" fill="#6c6c6c"/>
<rect x="822" y="66" width="3" height="10" fill="#ff0000" fill-opacity="0.54"/>
<rect x="826" y="72.4" width="1" height="6.01" fill="#6c6c6c"/>
<rect x="825" y="76" width="3" height="2" fill="#ff0000" fill-opacity="0.54"/>
<rect x="829" y="74.4" width="1" height="34.05" fill="#6c6c6c"/>
<rect x="828" y="76" width="3" height="32" fill="#ff0000" fill-opacity="0.54"/>
<rect x="832" y="95.76" width="1" height="20.03" fill="#6c6c6c"/>
<rect x="831" y="108" width="3" height="3" fill="#ff0000" fill-opacity="0.54"/>
<rect x="835" y="92.42" width="1" height="28.3" fill="#6c6c6c"/>
<rect x="834" y="92" width="3" height="22" fill="#0000ff" fill-opacity="0.54"/>
<rect x="838" y="61.05" width="1" height="41.39" fill="#6c6c6c"/>
<rect x="837" y="67" width="3" height="26" fill="#0000ff" fill-opacity="0.54"/>
<rect x="841" y="63.05" width="1" height="54.74" fill="#6c6c6c"/>
<rect x="840" y="65" width="3" height="48" fill="#ff0000" fill-opacity="0.54"/>
<rect x="844" y="105.34" width="1" height="68.09" fill="#6c6c6c"/>
<rect x="843" y="113" width="3" height="38" fill="#ff0000" fill-opacity="0.54"/>
<rect x="847" y="133.38" width="1" height="25.37" fill="#6c6c6c"/>
<rect x="846" y="149" width="3" height="10" fill="#ff0000" fill-opacity="0.54"/>
<rect x="850" y="142.72" width="1" height="30.71" fill="#6c6c6c"/>
<rect x="849" y="143" width="3" height="16" fill="#0000ff" fill-opacity="0.54"/>
<rect x="853" y="136.05" width="1" height="25.37" fill="#6c6c6c"/>
<rect x="852" y="143" width="3" height="2" fill="#ff0000" fill-opacity="0.54"/>
<rect x="856" y="137.38" width="1" height="22.7" fill="#6c6c6c"/>
<rect x="855" y="143" width="3" height="1" fill="#ff0000" fill-opacity="0.54"/>
<rect x="859" y="141.39" width="1" height="35.38" fill="#6c6c6c"/>
<rect x="858" y="143" width="3" height="26" fill="#ff0000" fill-opacity="0.54"/>
<rect x="862" y="149.4" width="1" height="22.03" fill="#6c6c6c"/>
<rect x="861" y="152" width="3" height="17" fill="#0000ff" fill-opacity="0.54"/>
<rect x="865" y="144.06" width="1" height="24.3" fill="#6c6c6c"/>
<rect x="864" y="151" width="3" height="17" fill="#ff0000" fill-opacity="0.54"/>
<rect x="868" y="166.1" width="1" height="42.6" fill="#6c6c6c"/>
<rect x="867" y="168" width="3" height="38" fill="#ff0000" fill-opacity="0.54"/>
<rect x="871" y="186.69" width="1" height="23.36" fill="#6c6c6c"/>
<rect x="870" y="198" width="3" height="9" fill="#0000ff" fill-opacity="0.54"/>
<rect x="874" y="165" width="1" height="41.7" fill="#6c6c6c"/>
<rect x="873" y="166" width="3" height="39" fill="#0000ff" fill-opacity="0.54"/>
<rect x="877" y="165.4" width="1" height="59.3" fill="#6c6c6c"/>
<rect x="876" y="165" width="3" height="60" fill="#ff0000" fill-opacity="0.54"/>
<rect x="880" y="210.05" width="1" height="21.36" fill="#6c6c6c"/>
<rect x="879" y="215" width="3" height="10" fill="#0000ff" fill-opacity="0.54"/>
<rect x="883" y="188.69" width="1" height="27.77" fill="#6c6c6c"/>
<rect x="882" y="199" width="3" height="17" fill="#0000ff" fill-opacity="0.54"/>
<rect x="886" y="178.01" width="1" height="21.63" fill="#6c6c6c"/>
<rect x="885" y="184" width="3" height="16" fill="#0000ff" fill-opacity="0.54"/>
<rect x="889" y="180.01" width="1" height="14.02" fill="#6c6c6c"/>
<rect x="888" y="183" width="3" height="1" fill="#0000ff" fill-opacity="0.54"/>
<rect x="892" y="169.47" width="1" height="51.94" fill="#6c6c6c"/>
<rect x="891" y="180" width="3" height="41" fill="#ff0000" fill-opacity="0.54"/>
<rect x="895" y="206.72" width="1" height="16.69" fill="#6c6c6c"/>
<rect x="894" y="217" width="3" height="5" fill="#0000ff" fill-opacity="0.54"/>
<rect x="898" y="218.06" width="1" height="34.05" fill="#6c6c6c"/>
<rect x="897" y="218" width="3" height="29" fill="#ff0000" fill-opacity="0.54"/>
<rect x="901" y="218.26" width="1" height="84.32" fill="#6c6c6c"/>
<rect x="900" y="241" width="3" height="27" fill="#ff0000" fill-opacity="0.54"/>
<rect x="904" y="255.08" width="1" height="20.81" fill="#6c6c6c"/>
<rect x="903" y="264" width="3" height="11" fill="#0000ff" fill-opacity="0.54"/>
<rect x="907" y="260.95" width="1" height="29.89" fill="#6c6c6c"/>
<rect x="906" y="263" width="3" height="21" fill="#ff0000" fill-opacity="0.54"/>
<rect x="910" y="224.02" width="1" height="60.41" fill="#6c6c6c"/>
<rect x="909" y="240" width="3" height="44" fill="#0000ff" fill-opacity="0.54"/>
<rect x="913" y="210.7" width="1" height="24.5" fill="#6c6c6c"/>
<rect x="912" y="227" width="3" height="8" fill="#0000ff" fill-opacity="0.54"/>
<rect x="916" y="219" width="1" height="50.5" fill="#6c6c6c"/>
<rect x="915" y="226" width="3" height="44" fill="#ff0000" fill-opacity="0.54"/>
<rect x="919" y="260.95" width="1" height="21.88" fill="#6c6c6c"/>
<rect x="918" y="266" width="3" height="7" fill="#ff0000" fill-opacity="0.54"/>
<rect x="922" y="262.02" width="1" height="19.75" fill="#6c6c6c"/>
<rect x="921" y="270" width="3" height="8" fill="#ff0000" fill-opacity="0.54"/>
<rect x="925" y="275.36" width="1" height="19.21" fill="#6c6c6c"/>
<rect x="924" y="279" width="3" height="11" fill="#ff0000" fill-opacity="0.54"/>
<rect x="928" y="270.03" width="1" height="20.81" fill="#6c6c6c"/>
<rect x="927" y="272" width="3" height="11" fill="#0000ff" fill-opacity="0.54"/>
<rect x="931" y="244.94" width="1" height="26.68" fill="#6c6c6c"/>
<rect x="930" y="249" width="3" height="21" fill="#0000ff" fill-opacity="0.54"/>
<rect x="934" y="247.08" width="1" height="30.42" fill="#6c6c6c"/>
<rect x="933" y="247" width="3" height="16" fill="#ff0000" fill-opacity="0.54"/>
<rect x="937" y="255.08" width="1" height="19.75" fill="#6c6c6c"/>
<rect x="936" y="263" width="3" height="5" fill="#ff0000" fill-opacity="0.54"/>
<rect x="940" y="260.95" width="1" height="27.75" fill="#6c6c6c"/>
<rect x="939" y="268" width="3" height="13" fill="#ff0000" fill-opacity="0.54"/>
<rect x="943" y="271.09" width="1" height="18.68" fill="#6c6c6c"/>
<rect x="942" y="277" width="3" height="4" fill="#0000ff" fill-opacity="0.54"/>
<rect x="946" y="246.01" width="1" height="32.55" fill="#6c6c6c"/>
<rect x="945" y="260" width="3" height="19" fill="#0000ff" fill-opacity="0.54"/>
<rect x="949" y="241.21" width="1" height="19.75" fill="#6c6c6c"/>
<rect x="948" y="246" width="3" height="11" fill="#0000ff" fill-opacity="0.54"/>
<rect x="952" y="244.09" width="1" height="12.59" fill="#6c6c6c"/>
<rect x="951" y="244" width="3" height="7" fill="#ff0000" fill-opacity="0.54"/>
<rect x="955" y="232.13" width="1" height="18.68" fill="#6c6c6c"/>
<rect x="954" y="241" width="3" height="10" fill="#0000ff" fill-opacity="0.54"/>
<rect x="958" y="234.8" width="1" height="27.75" fill="#6c6c6c"/>
<rect x="957" y="244" width="3" height="15" fill="#ff0000" fill-opacity="0.54"/>
<rect x="961" y="217" width="1" height="60.5" fill="#6c6c6c"/>
<rect x="960" y="221" width="3" height="27" fill="#0000ff" fill-opacity="0.54"/>
<rect x="964" y="174" width="1" height="44.7" fill="#6c6c6c"/>
<rect x="963" y="175" width="3" height="44" fill="#0000ff" fill-opacity="0.54"/>
<rect x="967" y="143.01" width="1" height="39.03" fill="#6c6c6c"/>
<rect x="966" y="151" width="3" height="25" fill="#0000ff" fill-opacity="0.54"/>
<rect x="970" y="132.8" width="1" height="37.23" fill="#6c6c6c"/>
<rect x="969" y="148" width="3" height="8" fill="#0000ff" fill-opacity="0.54"/>
<rect x="973" y="128" width="1" height="26" fill="#6c6c6c"/>
<rect x="972" y="130" width="3" height="20" fill="#0000ff" fill-opacity="0.54"/>
<rect x="976" y="92.6" width="1" height="41.3" fill="#6c6c6c"/>
<rect x="975" y="101" width="3" height="27" fill="#0000ff" fill-opacity="0.54"/>
<rect x="979" y="97.1" width="1" height="17.6" fill="#6c6c6c"/>
<rect x="978" y="100" width="3" height="9" fill="#ff0000" fill-opacity="0.54"/>
<rect x="982" y="101.9" width="1" height="18.7" fill="#6c6c6c"/>
<rect x="981" y="108" width="3" height="4" fill="#ff0000" fill-opacity="0.54"/>
<rect x="985" y="92.6" width="1" height="38.1" fill="#6c6c6c"/>
<rect x="984" y="110" width="3" height="2" fill="#ff0000" fill-opacity="0.54"/>
<rect x="988" y="105.1" width="1" height="39.9" fill="#6c6c6c"/>
<rect x="987" y="110" width="3" height="29" fill="#ff0000" fill-opacity="0.54"/>
<rect x="991" y="125.4" width="1" height="31.6" fill="#6c6c6c"/>
<rect x="990" y="136" width="3" height="4" fill="#0000ff" fill-opacity="0.54"/>
<rect x="994" y="128.6" width="1" height="29.4" fill="#6c6c6c"/>
<rect x="993" y="131" width="3" height="9" fill="#0000ff" fill-opacity="0.54"/>
<rect x="997" y="132.3" width="1" height="30.7" fill="#6c6c6c"/>
<rect x="996" y="134" width="3" height="25" fill="#ff0000" fill-opacity="0.54"/>
<rect x="1000" y="143.51" width="1" height="24.52" fill="#6c6c6c"/>
<rect x="999" y="150" width="3" height="10" fill="#0000ff" fill-opacity="0.54"/>
<rect x="1003" y="132.3" width="1" height="24.22" fill="#6c6c6c"/>
<rect x="1002" y="147" width="3" height="8" fill="#ff0000" fill-opacity="0.54"/>
<rect x="1006" y="142.51" width="1" height="21.52" fill="#6c6c6c"/>
<rect x="1005" y="155" width="3" height="8" fill="#ff0000" fill-opacity="0.54"/>
<rect x="1009" y="134.4" width="1" height="32.12" fill="#6c6c6c"/>
<rect x="1008" y="143" width="3" height="20" fill="#0000ff" fill-opacity="0.54"/>
<rect x="1012" y="125.9" width="1" height="21.1" fill="#6c6c6c"/>
<rect x="1011" y="134" width="3" height="10" fill="#0000ff" fill-opacity="0.54"/>
<rect x="1015" y="130.2" width="1" height="26.3" fill="#6c6c6c"/>
<rect x="1014" y="134" width="3" height="22" fill="#ff0000" fill-opacity="0.54"/>
<rect x="1018" y="154.01" width="1" height="24.02" fill="#6c6c6c"/>
<rect x="1017" y="156" width="3" height="16" fill="#ff0000" fill-opacity="0.54"/>
<rect x="1021" y="161.02" width="1" height="22.02" fill="#6c6c6c"/>
<rect x="1020" y="170" width="3" height="6" fill="#0000ff" fill-opacity="0.54"/>
<rect x="1024" y="168.02" width="1" height="16.01" fill="#6c6c6c"/>
<rect x="1023" y="170" width="3" height="4" fill="#ff0000" fill-opacity="0.54"/>
<rect x="1027" y="168.02" width="1" height="32.82" fill="#6c6c6c"/>
<rect x="1026" y="174" width="3" height="27" fill="#ff0000" fill-opacity="0.54"/>
<rect x="1030" y="190.04" width="1" height="14.01" fill="#6c6c6c"/>
<rect x="1029" y="196" width="3" height="3" fill="#0000ff" fill-opacity="0.54"/>
<rect x="1033" y="166.02" width="1" height="23.02" fill="#6c6c6c"/>
<rect x="1032" y="169" width="3" height="11" fill="#0000ff" fill-opacity="0.54"/>
<rect x="1036" y="152.01" width="1" height="19.81" fill="#6c6c6c"/>
<rect x="1035" y="157" width="3" height="15" fill="#0000ff" fill-opacity="0.54"/>
<rect x="1039" y="138" width="1" height="21.01" fill="#6c6c6c"/>
<rect x="1038" y="149" width="3" height="5" fill="#0000ff" fill-opacity="0.54"/>
<rect x="1042" y="144.01" width="1" height="38.03" fill="#6c6c6c"/>
<rect x="1041" y="151" width="3" height="21" fill="#ff0000" fill-opacity="0.54"/>
<rect x="1045" y="163.02" width="1" height="12.01" fill="#6c6c6c"/>
<rect x="1044" y="165" width="3" height="10" fill="#0000ff" fill-opacity="0.54"/>
</g>
</g>
<rect x="1162.5" y="63.5" width="77" height="13" fill="#e0ebf4" stroke="#62798e" stroke-width="1" shape-rendering="crispEdges"/>
<text x="1164.6" y="74" font-family="Liberation Mono, sans-serif" font-size="11" fill="#111111" textLength="72.5" lengthAdjust="spacing" >121.68-118.61</text>
<line x1="1161" y1="76.5" x2="1442" y2="76.5" stroke="#ff0000" stroke-width="1" shape-rendering="crispEdges"/>
<rect x="1165.5" y="128.5" width="77" height="13" fill="#e0ebf4" stroke="#62798e" stroke-width="1" shape-rendering="crispEdges"/>
<text x="1167.6" y="139" font-family="Liberation Mono, sans-serif" font-size="11" fill="#111111" textLength="72.5" lengthAdjust="spacing" >115.50-113.85</text>
<rect x="1165.5" y="216.5" width="77" height="13" fill="#e0ebf4" stroke="#62798e" stroke-width="1" shape-rendering="crispEdges"/>
<text x="1167.6" y="227" font-family="Liberation Mono, sans-serif" font-size="11" fill="#111111" textLength="72.5" lengthAdjust="spacing" >105.19-107.54</text>
<path d="M1120 18.2 L1165 18.2 A8 8 0 0 1 1173 26.2 L1173 42.4 A8 8 0 0 1 1165 50.4 L1119.8 50.4 L1098.4 63.1 L1112 42.6 L1112 26.2 A8 8 0 0 1 1120 18.2 Z" fill="rgba(234,153,153,0.5)" stroke="#d9636c" stroke-width="1.7" stroke-linejoin="round"/>
<text x="1122.5" y="38.1" font-family="Liberation Sans, sans-serif" font-size="12" fill="#222222" textLength="38.6" lengthAdjust="spacing" >Supply</text>
<path d="M1284 23 L1366.6 23 A8 8 0 0 1 1374.6 31 L1374.6 59.7 A8 8 0 0 1 1366.6 67.7 L1284 67.7 L1263.8 73.4 L1276 59.4 L1276 31 A8 8 0 0 1 1284 23 Z" fill="rgba(234,153,153,0.5)" stroke="#e48a8a" stroke-width="1.7" stroke-linejoin="round"/>
<text x="1287.8" y="43.3" font-family="Liberation Sans, sans-serif" font-size="12" fill="#222222" textLength="69.4" lengthAdjust="spacing" >2016 Yearly</text>
<text x="1287.8" y="55.3" font-family="Liberation Sans, sans-serif" font-size="12" fill="#222222" textLength="75.7" lengthAdjust="spacing" >opening level</text>
<path d="M764.7 133.1 L790.7 133.1 L798.3 122 L806 133.1 L831.7 133.1 A8 8 0 0 1 839.7 141.1 L839.7 157.7 A8 8 0 0 1 831.7 165.7 L764.7 165.7 A8 8 0 0 1 756.7 157.7 L756.7 141.1 A8 8 0 0 1 764.7 133.1 Z" fill="rgba(234,153,153,0.5)" stroke="#e48a8a" stroke-width="1.7" stroke-linejoin="round"/>
<text x="767.6" y="152.9" font-family="Liberation Sans, sans-serif" font-size="12" fill="#222222" textLength="62.2" lengthAdjust="spacing" >Resistance</text>
<path d="M1273.4 145.1 L1317.7 145.1 A8 8 0 0 1 1325.7 153.1 L1325.7 169.5 A8 8 0 0 1 1317.7 177.5 L1272.7 177.5 A8 8 0 0 1 1264.7 169.5 L1264.7 153.7 L1251.3 137.1 Z" fill="rgba(234,153,153,0.5)" stroke="#d9636c" stroke-width="1.7" stroke-linejoin="round"/>
<text x="1275.4" y="165" font-family="Liberation Sans, sans-serif" font-size="12" fill="#222222" textLength="38.6" lengthAdjust="spacing" >Supply</text>
<path d="M1341 128.6 L1374.2 128.6 L1379.5 113.7 L1390.2 128.6 L1424.3 128.6 A8 8 0 0 1 1432.3 136.6 L1432.3 165.8 A8 8 0 0 1 1424.3 173.8 L1341 173.8 A8 8 0 0 1 1333 165.8 L1333 136.6 A8 8 0 0 1 1341 128.6 Z" fill="rgba(234,153,153,0.5)" stroke="#e48a8a" stroke-width="1.7" stroke-linejoin="round"/>
<text x="1344.8" y="149" font-family="Liberation Sans, sans-serif" font-size="12" fill="#222222" textLength="69.4" lengthAdjust="spacing" >2017 Yearly</text>
<text x="1344.8" y="161" font-family="Liberation Sans, sans-serif" font-size="12" fill="#222222" textLength="75.7" lengthAdjust="spacing" >opening level</text>
<rect x="1443" y="69" width="50" height="16" fill="#ff0000" shape-rendering="crispEdges"/>
<line x1="1443" y1="76.5" x2="1446" y2="76.5" stroke="#ffffff" stroke-width="1" shape-rendering="crispEdges"/>
<text x="1450.5" y="81" font-family="Liberation Sans, sans-serif" font-size="11" fill="#ffffff" font-weight="bold" textLength="37.4" lengthAdjust="spacing" >120.180</text>
<rect x="1443" y="96" width="50" height="16" fill="#ff0000" shape-rendering="crispEdges"/>
<line x1="1443" y1="103.5" x2="1446" y2="103.5" stroke="#ffffff" stroke-width="1" shape-rendering="crispEdges"/>
<text x="1450.5" y="108" font-family="Liberation Sans, sans-serif" font-size="11" fill="#ffffff" font-weight="bold" textLength="37.4" lengthAdjust="spacing" >116.970</text>
<rect x="1443" y="112" width="50" height="16" fill="#ff0000" shape-rendering="crispEdges"/>
<line x1="1443" y1="119.5" x2="1446" y2="119.5" stroke="#ffffff" stroke-width="1" shape-rendering="crispEdges"/>
<text x="1450.5" y="124" font-family="Liberation Sans, sans-serif" font-size="11" fill="#ffffff" font-weight="bold" textLength="37.4" lengthAdjust="spacing" >116.080</text>
<rect x="1443" y="157" width="48" height="16" fill="#0000ff" shape-rendering="crispEdges"/>
<line x1="1443" y1="164.5" x2="1446" y2="164.5" stroke="#ffffff" stroke-width="1" shape-rendering="crispEdges"/>
<text x="1450.5" y="169" font-family="Liberation Sans, sans-serif" font-size="11" fill="#ffffff" font-weight="bold" textLength="37.4" lengthAdjust="spacing" >111.811</text>
<rect x="1443" y="276" width="48" height="16" fill="#0000ff" shape-rendering="crispEdges"/>
<line x1="1443" y1="283.5" x2="1446" y2="283.5" stroke="#ffffff" stroke-width="1" shape-rendering="crispEdges"/>
<text x="1450.5" y="288" font-family="Liberation Sans, sans-serif" font-size="11" fill="#ffffff" font-weight="bold" textLength="37.4" lengthAdjust="spacing" >100.610</text>
<g clip-path="url(#c2b)">
<text x="750.5" y="335" font-family="Liberation Sans, sans-serif" font-size="11" fill="#555555" text-anchor="middle" >Jul</text>
</g>
<line x1="829.5" y1="321" x2="829.5" y2="324" stroke="#555555" stroke-width="1" shape-rendering="crispEdges"/>
<text x="829.4" y="335" font-family="Liberation Sans, sans-serif" font-size="11" fill="#555555" font-weight="bold" text-anchor="middle" >2016</text>
<line x1="907.5" y1="321" x2="907.5" y2="324" stroke="#555555" stroke-width="1" shape-rendering="crispEdges"/>
<text x="907.6" y="335" font-family="Liberation Sans, sans-serif" font-size="11" fill="#555555" text-anchor="middle" >Jul</text>
<line x1="985.5" y1="321" x2="985.5" y2="324" stroke="#555555" stroke-width="1" shape-rendering="crispEdges"/>
<text x="985.3" y="335" font-family="Liberation Sans, sans-serif" font-size="11" fill="#555555" font-weight="bold" text-anchor="middle" >2017</text>
<line x1="1062.5" y1="321" x2="1062.5" y2="324" stroke="#555555" stroke-width="1" shape-rendering="crispEdges"/>
<text x="1062.4" y="335" font-family="Liberation Sans, sans-serif" font-size="11" fill="#555555" text-anchor="middle" >Jul</text>
<line x1="1140.5" y1="321" x2="1140.5" y2="324" stroke="#555555" stroke-width="1" shape-rendering="crispEdges"/>
<text x="1140.4" y="335" font-family="Liberation Sans, sans-serif" font-size="11" fill="#555555" font-weight="bold" text-anchor="middle" >2018</text>
<line x1="1218.5" y1="321" x2="1218.5" y2="324" stroke="#555555" stroke-width="1" shape-rendering="crispEdges"/>
<text x="1218.6" y="335" font-family="Liberation Sans, sans-serif" font-size="11" fill="#555555" text-anchor="middle" >Jul</text>
<line x1="1299.5" y1="321" x2="1299.5" y2="324" stroke="#555555" stroke-width="1" shape-rendering="crispEdges"/>
<text x="1299.2" y="335" font-family="Liberation Sans, sans-serif" font-size="11" fill="#555555" font-weight="bold" text-anchor="middle" >2019</text>
<line x1="1389.5" y1="321" x2="1389.5" y2="324" stroke="#555555" stroke-width="1" shape-rendering="crispEdges"/>
<text x="1389.5" y="335" font-family="Liberation Sans, sans-serif" font-size="11" fill="#555555" text-anchor="middle" >Aug</text>
<text x="751.5" y="358" font-family="Liberation Sans, sans-serif" font-size="12" fill="#000000" font-weight="bold" textLength="79.5" lengthAdjust="spacing" >FX:USDJPY, D</text>
<text x="838.6" y="358" font-family="Liberation Sans, sans-serif" font-size="12" fill="#000000" textLength="44.4" lengthAdjust="spacing" >111.814</text>
<path d="M886.3 358.8 L891.9 348 L897.5 358.8 Z" fill="#0a9c0a"/>
<text x="900.6" y="358" font-family="Liberation Sans, sans-serif" font-size="12" fill="#000000" textLength="95" lengthAdjust="spacing" >+0.029 (+0.03%)</text>
<text x="1000.8" y="358" font-family="Liberation Sans, sans-serif" font-size="12" fill="#000000" font-weight="bold" >O:</text>
<text x="1015.5" y="358" font-family="Liberation Sans, sans-serif" font-size="12" fill="#0a9c0a" textLength="44.8" lengthAdjust="spacing" >111.785</text>
<text x="1065.5" y="358" font-family="Liberation Sans, sans-serif" font-size="12" fill="#000000" font-weight="bold" >H:</text>
<text x="1079.3" y="358" font-family="Liberation Sans, sans-serif" font-size="12" fill="#0a9c0a" textLength="46" lengthAdjust="spacing" >111.992</text>
<text x="1130.5" y="358" font-family="Liberation Sans, sans-serif" font-size="12" fill="#000000" font-weight="bold" >L:</text>
<text x="1141.3" y="358" font-family="Liberation Sans, sans-serif" font-size="12" fill="#0a9c0a" textLength="44.8" lengthAdjust="spacing" >111.765</text>
<text x="1191.7" y="358" font-family="Liberation Sans, sans-serif" font-size="12" fill="#000000" font-weight="bold" >C:</text>
<text x="1205" y="358" font-family="Liberation Sans, sans-serif" font-size="12" fill="#0a9c0a" textLength="46" lengthAdjust="spacing" >111.814</text>
<rect x="751.5" y="367.5" width="742" height="334" fill="#ffffff" stroke="#555555" stroke-width="1" shape-rendering="crispEdges"/>
<line x1="1443.5" y1="367.5" x2="1443.5" y2="682.5" stroke="#555555" stroke-width="1" shape-rendering="crispEdges"/>
<line x1="751.5" y1="682.5" x2="1443.5" y2="682.5" stroke="#555555" stroke-width="1" shape-rendering="crispEdges"/>
<text x="760.3" y="388.6" font-family="Liberation Sans, sans-serif" font-size="12" fill="#6e6e6e" font-weight="bold" textLength="167" lengthAdjust="spacing" >U.S. Dollar/Japanese Yen, D</text>
<line x1="1444" y1="394.5" x2="1447" y2="394.5" stroke="#555555" stroke-width="1" shape-rendering="crispEdges"/>
<text x="1450.3" y="399.1" font-family="Liberation Sans, sans-serif" font-size="11" fill="#555555" textLength="38.3" lengthAdjust="spacing" >118.000</text>
<line x1="1444" y1="426.5" x2="1447" y2="426.5" stroke="#555555" stroke-width="1" shape-rendering="crispEdges"/>
<text x="1450.3" y="431.1" font-family="Liberation Sans, sans-serif" font-size="11" fill="#555555" textLength="38.3" lengthAdjust="spacing" >116.000</text>
<line x1="1444" y1="459.5" x2="1447" y2="459.5" stroke="#555555" stroke-width="1" shape-rendering="crispEdges"/>
<text x="1450.3" y="464.1" font-family="Liberation Sans, sans-serif" font-size="11" fill="#555555" textLength="38.3" lengthAdjust="spacing" >114.000</text>
<line x1="1444" y1="523.5" x2="1447" y2="523.5" stroke="#555555" stroke-width="1" shape-rendering="crispEdges"/>
<text x="1450.3" y="528.1" font-family="Liberation Sans, sans-serif" font-size="11" fill="#555555" textLength="38.3" lengthAdjust="spacing" >110.000</text>
<line x1="1444" y1="555.5" x2="1447" y2="555.5" stroke="#555555" stroke-width="1" shape-rendering="crispEdges"/>
<text x="1450.3" y="560.1" font-family="Liberation Sans, sans-serif" font-size="11" fill="#555555" textLength="38.3" lengthAdjust="spacing" >108.000</text>
<line x1="1444" y1="587.5" x2="1447" y2="587.5" stroke="#555555" stroke-width="1" shape-rendering="crispEdges"/>
<text x="1450.3" y="592.1" font-family="Liberation Sans, sans-serif" font-size="11" fill="#555555" textLength="38.3" lengthAdjust="spacing" >106.000</text>
<line x1="1444" y1="619.5" x2="1447" y2="619.5" stroke="#555555" stroke-width="1" shape-rendering="crispEdges"/>
<text x="1450.3" y="624.1" font-family="Liberation Sans, sans-serif" font-size="11" fill="#555555" textLength="38.3" lengthAdjust="spacing" >104.000</text>
<line x1="1444" y1="651.5" x2="1447" y2="651.5" stroke="#555555" stroke-width="1" shape-rendering="crispEdges"/>
<text x="1450.3" y="656.1" font-family="Liberation Sans, sans-serif" font-size="11" fill="#555555" textLength="38.3" lengthAdjust="spacing" >102.000</text>
<g clip-path="url(#c3)">
<rect x="873.5" y="433.5" width="380" height="16" fill="none" stroke="#2d2d2d" stroke-width="1" shape-rendering="crispEdges"/>
<rect x="790.5" y="485.5" width="463" height="16" fill="none" stroke="#2d2d2d" stroke-width="1" shape-rendering="crispEdges"/>
<g shape-rendering="crispEdges">
<rect x="751" y="594.38" width="1" height="9.38" fill="#6c6c6c"/>
<rect x="750" y="594" width="3" height="10" fill="#0000ff"/>
<rect x="754" y="573.21" width="1" height="31.25" fill="#6c6c6c"/>
<rect x="753" y="575" width="3" height="20" fill="#0000ff"/>
<rect x="758" y="573.21" width="1" height="14.2" fill="#6c6c6c"/>
<rect x="757" y="575" width="3" height="5" fill="#ff0000"/>
<rect x="761" y="547.22" width="1" height="28.41" fill="#6c6c6c"/>
<rect x="760" y="549" width="3" height="26" fill="#0000ff"/>
<rect x="764" y="534.43" width="1" height="24.57" fill="#6c6c6c"/>
<rect x="763" y="537" width="3" height="13" fill="#0000ff"/>
<rect x="768" y="528.18" width="1" height="14.49" fill="#6c6c6c"/>
<rect x="767" y="537" width="3" height="3" fill="#ff0000"/>
<rect x="771" y="520.98" width="1" height="25.62" fill="#6c6c6c"/>
<rect x="770" y="522" width="3" height="18" fill="#0000ff"/>
<rect x="774" y="508.7" width="1" height="16.01" fill="#6c6c6c"/>
<rect x="773" y="510" width="3" height="13" fill="#0000ff"/>
<rect x="778" y="501.77" width="1" height="14.94" fill="#6c6c6c"/>
<rect x="777" y="509" width="3" height="3" fill="#ff0000"/>
<rect x="781" y="501.77" width="1" height="18.14" fill="#6c6c6c"/>
<rect x="780" y="506" width="3" height="6" fill="#0000ff"/>
<rect x="784" y="476.15" width="1" height="33.62" fill="#6c6c6c"/>
<rect x="783" y="484" width="3" height="23" fill="#0000ff"/>
<rect x="788" y="467.08" width="1" height="18.68" fill="#6c6c6c"/>
<rect x="787" y="471" width="3" height="14" fill="#0000ff"/>
<rect x="791" y="460.67" width="1" height="21.88" fill="#6c6c6c"/>
<rect x="790" y="471" width="3" height="3" fill="#ff0000"/>
<rect x="794" y="476.15" width="1" height="25.4" fill="#6c6c6c"/>
<rect x="793" y="480" width="3" height="14" fill="#ff0000"/>
<rect x="798" y="469.96" width="1" height="27.54" fill="#6c6c6c"/>
<rect x="797" y="486" width="3" height="8" fill="#0000ff"/>
<rect x="801" y="451.07" width="1" height="40.03" fill="#6c6c6c"/>
<rect x="800" y="453" width="3" height="34" fill="#0000ff"/>
<rect x="804" y="446.05" width="1" height="15.69" fill="#6c6c6c"/>
<rect x="803" y="453" width="3" height="7" fill="#ff0000"/>
<rect x="808" y="455.87" width="1" height="13.88" fill="#6c6c6c"/>
<rect x="807" y="459" width="3" height="10" fill="#ff0000"/>
<rect x="811" y="446.9" width="1" height="30.85" fill="#6c6c6c"/>
<rect x="810" y="463" width="3" height="9" fill="#0000ff"/>
<rect x="814" y="456.94" width="1" height="10.67" fill="#6c6c6c"/>
<rect x="813" y="460" width="3" height="4" fill="#0000ff"/>
<rect x="818" y="453.2" width="1" height="15.48" fill="#6c6c6c"/>
<rect x="817" y="460" width="3" height="5" fill="#ff0000"/>
<rect x="821" y="453.2" width="1" height="20.49" fill="#6c6c6c"/>
<rect x="820" y="459" width="3" height="6" fill="#0000ff"/>
<rect x="824" y="437.83" width="1" height="21.88" fill="#6c6c6c"/>
<rect x="823" y="441" width="3" height="19" fill="#0000ff"/>
<rect x="828" y="425.03" width="1" height="20.81" fill="#6c6c6c"/>
<rect x="827" y="437" width="3" height="7" fill="#ff0000"/>
<rect x="831" y="436.23" width="1" height="11.74" fill="#6c6c6c"/>
<rect x="830" y="441" width="3" height="3" fill="#0000ff"/>
<rect x="834" y="404.75" width="1" height="42.16" fill="#6c6c6c"/>
<rect x="833" y="411" width="3" height="31" fill="#0000ff"/>
<rect x="838" y="387.13" width="1" height="24.55" fill="#6c6c6c"/>
<rect x="837" y="393" width="3" height="19" fill="#0000ff"/>
<rect x="841" y="387.13" width="1" height="16.54" fill="#6c6c6c"/>
<rect x="840" y="393" width="3" height="5" fill="#ff0000"/>
<rect x="844" y="393.54" width="1" height="25.4" fill="#6c6c6c"/>
<rect x="843" y="396" width="3" height="15" fill="#ff0000"/>
<rect x="848" y="390.87" width="1" height="20.81" fill="#6c6c6c"/>
<rect x="847" y="398" width="3" height="13" fill="#0000ff"/>
<rect x="851" y="394.07" width="1" height="16.01" fill="#6c6c6c"/>
<rect x="850" y="398" width="3" height="6" fill="#ff0000"/>
<rect x="854" y="396.74" width="1" height="10.14" fill="#6c6c6c"/>
<rect x="853" y="403" width="3" height="1" fill="#ff0000"/>
<rect x="858" y="401.86" width="1" height="7.15" fill="#6c6c6c"/>
<rect x="857" y="403" width="3" height="5" fill="#ff0000"/>
<rect x="861" y="401.01" width="1" height="9.93" fill="#6c6c6c"/>
<rect x="860" y="405" width="3" height="3" fill="#0000ff"/>
<rect x="864" y="397.81" width="1" height="12.27" fill="#6c6c6c"/>
<rect x="863" y="405" width="3" height="3" fill="#ff0000"/>
<rect x="868" y="407.09" width="1" height="16.86" fill="#6c6c6c"/>
<rect x="867" y="407" width="3" height="13" fill="#ff0000"/>
<rect x="871" y="407.95" width="1" height="19" fill="#6c6c6c"/>
<rect x="870" y="412" width="3" height="8" fill="#0000ff"/>
<rect x="874" y="387.13" width="1" height="25.83" fill="#6c6c6c"/>
<rect x="873" y="400" width="3" height="13" fill="#0000ff"/>
<rect x="878" y="391.94" width="1" height="19.21" fill="#6c6c6c"/>
<rect x="877" y="400" width="3" height="9" fill="#ff0000"/>
<rect x="881" y="404" width="1" height="35.65" fill="#6c6c6c"/>
<rect x="880" y="408" width="3" height="31" fill="#ff0000"/>
<rect x="884" y="407.95" width="1" height="34.16" fill="#6c6c6c"/>
<rect x="883" y="413" width="3" height="26" fill="#0000ff"/>
<rect x="888" y="403.14" width="1" height="24.55" fill="#6c6c6c"/>
<rect x="887" y="411" width="3" height="17" fill="#ff0000"/>
<rect x="891" y="421.82" width="1" height="18.14" fill="#6c6c6c"/>
<rect x="890" y="427" width="3" height="5" fill="#ff0000"/>
<rect x="894" y="413.03" width="1" height="42.59" fill="#6c6c6c"/>
<rect x="893" y="431" width="3" height="7" fill="#ff0000"/>
<rect x="898" y="434.8" width="1" height="27.75" fill="#6c6c6c"/>
<rect x="897" y="437" width="3" height="12" fill="#ff0000"/>
<rect x="901" y="435.87" width="1" height="20.81" fill="#6c6c6c"/>
<rect x="900" y="448" width="3" height="6" fill="#ff0000"/>
<rect x="904" y="451.88" width="1" height="13.88" fill="#6c6c6c"/>
<rect x="903" y="454" width="3" height="4" fill="#ff0000"/>
<rect x="908" y="455.08" width="1" height="27.75" fill="#6c6c6c"/>
<rect x="907" y="457" width="3" height="26" fill="#ff0000"/>
<rect x="911" y="447.08" width="1" height="35.76" fill="#6c6c6c"/>
<rect x="910" y="449" width="3" height="34" fill="#0000ff"/>
<rect x="914" y="433.2" width="1" height="19.75" fill="#6c6c6c"/>
<rect x="913" y="446" width="3" height="4" fill="#0000ff"/>
<rect x="917" y="436.94" width="1" height="18.68" fill="#6c6c6c"/>
<rect x="916" y="446" width="3" height="5" fill="#ff0000"/>
<rect x="921" y="452.95" width="1" height="27.75" fill="#6c6c6c"/>
<rect x="920" y="456" width="3" height="25" fill="#ff0000"/>
<rect x="924" y="460.95" width="1" height="21.88" fill="#6c6c6c"/>
<rect x="923" y="463" width="3" height="18" fill="#0000ff"/>
<rect x="927" y="460.42" width="1" height="14.41" fill="#6c6c6c"/>
<rect x="926" y="463" width="3" height="9" fill="#ff0000"/>
<rect x="931" y="446.01" width="1" height="28.82" fill="#6c6c6c"/>
<rect x="930" y="451" width="3" height="21" fill="#0000ff"/>
<rect x="934" y="436.94" width="1" height="16.01" fill="#6c6c6c"/>
<rect x="933" y="442" width="3" height="10" fill="#0000ff"/>
<rect x="937" y="443.88" width="1" height="24.02" fill="#6c6c6c"/>
<rect x="936" y="448" width="3" height="17" fill="#ff0000"/>
<rect x="941" y="459.89" width="1" height="29.89" fill="#6c6c6c"/>
<rect x="940" y="464" width="3" height="16" fill="#ff0000"/>
<rect x="944" y="459.89" width="1" height="20.81" fill="#6c6c6c"/>
<rect x="943" y="472" width="3" height="8" fill="#0000ff"/>
<rect x="947" y="470.03" width="1" height="20.81" fill="#6c6c6c"/>
<rect x="946" y="472" width="3" height="8" fill="#ff0000"/>
<rect x="951" y="467.89" width="1" height="19.21" fill="#6c6c6c"/>
<rect x="950" y="479" width="3" height="5" fill="#ff0000"/>
<rect x="954" y="479.1" width="1" height="18.68" fill="#6c6c6c"/>
<rect x="953" y="485" width="3" height="12" fill="#ff0000"/>
<rect x="957" y="482.09" width="1" height="15.69" fill="#6c6c6c"/>
<rect x="956" y="486" width="3" height="11" fill="#0000ff"/>
<rect x="961" y="482.83" width="1" height="15.26" fill="#6c6c6c"/>
<rect x="960" y="486" width="3" height="8" fill="#ff0000"/>
<rect x="964" y="470.03" width="1" height="25.62" fill="#6c6c6c"/>
<rect x="963" y="472" width="3" height="22" fill="#0000ff"/>
<rect x="967" y="462.02" width="1" height="15.8" fill="#6c6c6c"/>
<rect x="966" y="472" width="3" height="1" fill="#ff0000"/>
<rect x="971" y="457.22" width="1" height="11.74" fill="#6c6c6c"/>
<rect x="970" y="464" width="3" height="4" fill="#0000ff"/>
<rect x="974" y="451.13" width="1" height="20.71" fill="#6c6c6c"/>
<rect x="973" y="455" width="3" height="10" fill="#0000ff"/>
<rect x="977" y="443.88" width="1" height="18.14" fill="#6c6c6c"/>
<rect x="976" y="455" width="3" height="4" fill="#ff0000"/>
<rect x="981" y="455.08" width="1" height="18.68" fill="#6c6c6c"/>
<rect x="980" y="458" width="3" height="15" fill="#ff0000"/>
<rect x="984" y="467.89" width="1" height="13.88" fill="#6c6c6c"/>
<rect x="983" y="472" width="3" height="6" fill="#ff0000"/>
<rect x="987" y="472.16" width="1" height="6.72" fill="#6c6c6c"/>
<rect x="986" y="474" width="3" height="5" fill="#0000ff"/>
<rect x="991" y="463.09" width="1" height="11.74" fill="#6c6c6c"/>
<rect x="990" y="465" width="3" height="10" fill="#0000ff"/>
<rect x="994" y="464.16" width="1" height="12.81" fill="#6c6c6c"/>
<rect x="993" y="465" width="3" height="7" fill="#ff0000"/>
<rect x="997" y="467.89" width="1" height="14.94" fill="#6c6c6c"/>
<rect x="996" y="471" width="3" height="12" fill="#ff0000"/>
<rect x="1001" y="476.11" width="1" height="16.86" fill="#6c6c6c"/>
<rect x="1000" y="482" width="3" height="8" fill="#ff0000"/>
<rect x="1004" y="478.03" width="1" height="14.94" fill="#6c6c6c"/>
<rect x="1003" y="481" width="3" height="10" fill="#0000ff"/>
<rect x="1007" y="476.96" width="1" height="19.96" fill="#6c6c6c"/>
<rect x="1006" y="480" width="3" height="2" fill="#0000ff"/>
<rect x="1011" y="458.82" width="1" height="21.88" fill="#6c6c6c"/>
<rect x="1010" y="464" width="3" height="17" fill="#0000ff"/>
<rect x="1014" y="449.75" width="1" height="14.94" fill="#6c6c6c"/>
<rect x="1013" y="453" width="3" height="12" fill="#0000ff"/>
<rect x="1017" y="448.14" width="1" height="14.94" fill="#6c6c6c"/>
<rect x="1016" y="453" width="3" height="7" fill="#ff0000"/>
<rect x="1021" y="457.22" width="1" height="9.61" fill="#6c6c6c"/>
<rect x="1020" y="461" width="3" height="2" fill="#0000ff"/>
<rect x="1024" y="457.22" width="1" height="6.94" fill="#6c6c6c"/>
<rect x="1023" y="460" width="3" height="2" fill="#0000ff"/>
<rect x="1027" y="447.08" width="1" height="18.68" fill="#6c6c6c"/>
<rect x="1026" y="453" width="3" height="8" fill="#0000ff"/>
<rect x="1031" y="443.02" width="1" height="10.67" fill="#6c6c6c"/>
<rect x="1030" y="445" width="3" height="9" fill="#0000ff"/>
<rect x="1034" y="434.8" width="1" height="14.41" fill="#6c6c6c"/>
<rect x="1033" y="445" width="3" height="3" fill="#ff0000"/>
<rect x="1037" y="445.16" width="1" height="6.72" fill="#6c6c6c"/>
<rect x="1036" y="445" width="3" height="4" fill="#0000ff"/>
<rect x="1041" y="440.14" width="1" height="10.67" fill="#6c6c6c"/>
<rect x="1040" y="445" width="3" height="4" fill="#ff0000"/>
<rect x="1044" y="444.94" width="1" height="27.96" fill="#6c6c6c"/>
<rect x="1043" y="448" width="3" height="23" fill="#ff0000"/>
<rect x="1047" y="466.82" width="1" height="10.14" fill="#6c6c6c"/>
<rect x="1046" y="470" width="3" height="2" fill="#ff0000"/>
<rect x="1051" y="467.82" width="1" height="14.21" fill="#6c6c6c"/>
<rect x="1050" y="471" width="3" height="11" fill="#ff0000"/>
<rect x="1054" y="477.05" width="1" height="6.39" fill="#6c6c6c"/>
<rect x="1053" y="481" width="3" height="2" fill="#ff0000"/>
<rect x="1057" y="477.76" width="1" height="22.02" fill="#6c6c6c"/>
<rect x="1056" y="483" width="3" height="14" fill="#ff0000"/>
<rect x="1061" y="494.81" width="1" height="17.05" fill="#6c6c6c"/>
<rect x="1060" y="496" width="3" height="10" fill="#ff0000"/>
<rect x="1064" y="498.08" width="1" height="15.91" fill="#6c6c6c"/>
<rect x="1063" y="505" width="3" height="5" fill="#ff0000"/>
<rect x="1067" y="500.07" width="1" height="13.93" fill="#6c6c6c"/>
<rect x="1066" y="503" width="3" height="7" fill="#0000ff"/>
<rect x="1071" y="506.89" width="1" height="14.92" fill="#6c6c6c"/>
<rect x="1070" y="510" width="3" height="4" fill="#ff0000"/>
<rect x="1074" y="505.19" width="1" height="15.91" fill="#6c6c6c"/>
<rect x="1073" y="506" width="3" height="8" fill="#0000ff"/>
<rect x="1077" y="503.34" width="1" height="8.53" fill="#6c6c6c"/>
<rect x="1076" y="506" width="3" height="2" fill="#ff0000"/>
<rect x="1081" y="492.97" width="1" height="16.06" fill="#6c6c6c"/>
<rect x="1080" y="493" width="3" height="15" fill="#0000ff"/>
<rect x="1084" y="488.13" width="1" height="14.49" fill="#6c6c6c"/>
<rect x="1083" y="493" width="3" height="10" fill="#ff0000"/>
<rect x="1087" y="498.08" width="1" height="11.65" fill="#6c6c6c"/>
<rect x="1086" y="501" width="3" height="9" fill="#ff0000"/>
<rect x="1091" y="509.02" width="1" height="10.66" fill="#6c6c6c"/>
<rect x="1090" y="509" width="3" height="4" fill="#ff0000"/>
<rect x="1094" y="500.5" width="1" height="14.21" fill="#6c6c6c"/>
<rect x="1093" y="512" width="3" height="2" fill="#ff0000"/>
<rect x="1097" y="505.19" width="1" height="13.78" fill="#6c6c6c"/>
<rect x="1096" y="511" width="3" height="3" fill="#0000ff"/>
<rect x="1101" y="501.49" width="1" height="20.32" fill="#6c6c6c"/>
<rect x="1100" y="507" width="3" height="5" fill="#0000ff"/>
<rect x="1104" y="498.08" width="1" height="12.36" fill="#6c6c6c"/>
<rect x="1103" y="507" width="3" height="3" fill="#ff0000"/>
<rect x="1107" y="509.02" width="1" height="21.74" fill="#6c6c6c"/>
<rect x="1106" y="509" width="3" height="22" fill="#ff0000"/>
<rect x="1111" y="526.07" width="1" height="14.92" fill="#6c6c6c"/>
<rect x="1110" y="530" width="3" height="11" fill="#ff0000"/>
<rect x="1114" y="534.6" width="1" height="9.24" fill="#6c6c6c"/>
<rect x="1113" y="538" width="3" height="3" fill="#0000ff"/>
<rect x="1117" y="536.02" width="1" height="11.79" fill="#6c6c6c"/>
<rect x="1116" y="538" width="3" height="10" fill="#ff0000"/>
<rect x="1121" y="538.86" width="1" height="14.92" fill="#6c6c6c"/>
<rect x="1120" y="541" width="3" height="5" fill="#0000ff"/>
<rect x="1124" y="536.02" width="1" height="14.92" fill="#6c6c6c"/>
<rect x="1123" y="541" width="3" height="9" fill="#ff0000"/>
<rect x="1127" y="537.44" width="1" height="12.36" fill="#6c6c6c"/>
<rect x="1126" y="542" width="3" height="8" fill="#0000ff"/>
<rect x="1131" y="532.18" width="1" height="11.65" fill="#6c6c6c"/>
<rect x="1130" y="535" width="3" height="8" fill="#0000ff"/>
<rect x="1134" y="533.18" width="1" height="8.95" fill="#6c6c6c"/>
<rect x="1133" y="535" width="3" height="7" fill="#ff0000"/>
<rect x="1137" y="515.13" width="1" height="13.78" fill="#6c6c6c"/>
<rect x="1136" y="515" width="3" height="14" fill="#ff0000"/>
<rect x="1141" y="495.24" width="1" height="34.39" fill="#6c6c6c"/>
<rect x="1140" y="506" width="3" height="23" fill="#0000ff"/>
<rect x="1144" y="494.81" width="1" height="14.92" fill="#6c6c6c"/>
<rect x="1143" y="506" width="3" height="2" fill="#ff0000"/>
<rect x="1147" y="498.37" width="1" height="9.52" fill="#6c6c6c"/>
<rect x="1146" y="504" width="3" height="4" fill="#0000ff"/>
<rect x="1151" y="498.18" width="1" height="7.67" fill="#6c6c6c"/>
<rect x="1150" y="500" width="3" height="5" fill="#0000ff"/>
<rect x="1154" y="493.07" width="1" height="11.51" fill="#6c6c6c"/>
<rect x="1153" y="494" width="3" height="11" fill="#0000ff"/>
<rect x="1157" y="487.31" width="1" height="7.42" fill="#6c6c6c"/>
<rect x="1156" y="492" width="3" height="3" fill="#0000ff"/>
<rect x="1161" y="479" width="1" height="13.43" fill="#6c6c6c"/>
<rect x="1160" y="480" width="3" height="12" fill="#0000ff"/>
<rect x="1164" y="475.17" width="1" height="11.51" fill="#6c6c6c"/>
<rect x="1163" y="480" width="3" height="5" fill="#ff0000"/>
<rect x="1167" y="479" width="1" height="10.87" fill="#6c6c6c"/>
<rect x="1166" y="481" width="3" height="4" fill="#0000ff"/>
<rect x="1171" y="470.95" width="1" height="14.07" fill="#6c6c6c"/>
<rect x="1170" y="472" width="3" height="6" fill="#0000ff"/>
<rect x="1174" y="454.07" width="1" height="18.54" fill="#6c6c6c"/>
<rect x="1173" y="460" width="3" height="13" fill="#0000ff"/>
<rect x="1177" y="453.81" width="1" height="11.76" fill="#6c6c6c"/>
<rect x="1176" y="455" width="3" height="5" fill="#0000ff"/>
<rect x="1181" y="454.07" width="1" height="13.43" fill="#6c6c6c"/>
<rect x="1180" y="455" width="3" height="8" fill="#ff0000"/>
<rect x="1184" y="459.82" width="1" height="11.89" fill="#6c6c6c"/>
<rect x="1183" y="462" width="3" height="9" fill="#ff0000"/>
<rect x="1187" y="461.99" width="1" height="12.53" fill="#6c6c6c"/>
<rect x="1186" y="463" width="3" height="12" fill="#0000ff"/>
<rect x="1191" y="463.02" width="1" height="13.81" fill="#6c6c6c"/>
<rect x="1190" y="463" width="3" height="12" fill="#ff0000"/>
<rect x="1194" y="474.27" width="1" height="37.34" fill="#6c6c6c"/>
<rect x="1193" y="474" width="3" height="38" fill="#ff0000"/>
<rect x="1197" y="496.27" width="1" height="23.27" fill="#6c6c6c"/>
<rect x="1196" y="500" width="3" height="12" fill="#0000ff"/>
<rect x="1201" y="497.29" width="1" height="9.21" fill="#6c6c6c"/>
<rect x="1200" y="500" width="3" height="5" fill="#ff0000"/>
<rect x="1204" y="498.18" width="1" height="10.61" fill="#6c6c6c"/>
<rect x="1203" y="503" width="3" height="6" fill="#0000ff"/>
<rect x="1207" y="494.35" width="1" height="15.35" fill="#6c6c6c"/>
<rect x="1206" y="495" width="3" height="9" fill="#0000ff"/>
<rect x="1211" y="492.17" width="1" height="3.45" fill="#6c6c6c"/>
<rect x="1210" y="495" width="3" height="1" fill="#0000ff"/>
</g>
<rect x="751.5" y="557.5" width="502" height="12" fill="rgba(255,255,255,0.45)" stroke="#2d2d2d" stroke-width="1" shape-rendering="crispEdges"/>
</g>
<rect x="1255.5" y="435.5" width="77" height="13" fill="#e0ebf4" stroke="#62798e" stroke-width="1" shape-rendering="crispEdges"/>
<text x="1257.6" y="446" font-family="Liberation Mono, sans-serif" font-size="11" fill="#111111" textLength="72.5" lengthAdjust="spacing" >115.62-114.60</text>
<rect x="1255.5" y="489.5" width="77" height="13" fill="#e0ebf4" stroke="#62798e" stroke-width="1" shape-rendering="crispEdges"/>
<text x="1257.6" y="500" font-family="Liberation Mono, sans-serif" font-size="11" fill="#111111" textLength="72.5" lengthAdjust="spacing" >111.35-112.37</text>
<rect x="1255.5" y="562.5" width="77" height="13" fill="#e0ebf4" stroke="#62798e" stroke-width="1" shape-rendering="crispEdges"/>
<text x="1257.6" y="573" font-family="Liberation Mono, sans-serif" font-size="11" fill="#111111" textLength="72.5" lengthAdjust="spacing" >107.15-107.90</text>
<path d="M1300 379 L1367.5 379 A8 8 0 0 1 1375.5 387 L1375.5 415.7 A8 8 0 0 1 1367.5 423.7 L1300 423.7 L1289.7 436.1 L1292 414.7 L1292 387 A8 8 0 0 1 1300 379 Z" fill="rgba(234,153,153,0.5)" stroke="#e48a8a" stroke-width="1.7" stroke-linejoin="round"/>
<text x="1302.5" y="399" font-family="Liberation Sans, sans-serif" font-size="12" fill="#222222" textLength="62.2" lengthAdjust="spacing" >Resistance</text>
<text x="1302.5" y="411.1" font-family="Liberation Sans, sans-serif" font-size="12" fill="#222222" >area</text>
<path d="M1336.1 509 L1403.6 509 A8 8 0 0 1 1411.6 517 L1411.6 545.4 A8 8 0 0 1 1403.6 553.4 L1336.1 553.4 A8 8 0 0 1 1328.1 545.4 L1328.1 517.4 L1314.8 504.7 Z" fill="rgba(234,153,153,0.5)" stroke="#e48a8a" stroke-width="1.7" stroke-linejoin="round"/>
<text x="1338.5" y="528.9" font-family="Liberation Sans, sans-serif" font-size="12" fill="#222222" textLength="62.2" lengthAdjust="spacing" >Resistance</text>
<text x="1338.5" y="541" font-family="Liberation Sans, sans-serif" font-size="12" fill="#222222" >area</text>
<path d="M1345.5 591.1 L1396.2 591.1 A8 8 0 0 1 1404.2 599.1 L1404.2 627.4 A8 8 0 0 1 1396.2 635.4 L1344.4 635.4 A8 8 0 0 1 1336.4 627.4 L1336.4 599.4 L1329.2 582 Z" fill="rgba(234,153,153,0.5)" stroke="#e48a8a" stroke-width="1.7" stroke-linejoin="round"/>
<text x="1347.5" y="611.3" font-family="Liberation Sans, sans-serif" font-size="12" fill="#222222" textLength="45.9" lengthAdjust="spacing" >Support</text>
<text x="1347.5" y="623.4" font-family="Liberation Sans, sans-serif" font-size="12" fill="#222222" >area</text>
<rect x="1443" y="487" width="49" height="16" fill="#0000ff" shape-rendering="crispEdges"/>
<line x1="1443" y1="494.5" x2="1446" y2="494.5" stroke="#ffffff" stroke-width="1" shape-rendering="crispEdges"/>
<text x="1450.5" y="499" font-family="Liberation Sans, sans-serif" font-size="11" fill="#ffffff" font-weight="bold" textLength="37.4" lengthAdjust="spacing" >111.814</text>
<line x1="874.5" y1="683" x2="874.5" y2="686" stroke="#555555" stroke-width="1" shape-rendering="crispEdges"/>
<text x="874.4" y="697" font-family="Liberation Sans, sans-serif" font-size="11" fill="#555555" font-weight="bold" text-anchor="middle" >2017</text>
<line x1="1011.5" y1="683" x2="1011.5" y2="686" stroke="#555555" stroke-width="1" shape-rendering="crispEdges"/>
<text x="1011.5" y="697" font-family="Liberation Sans, sans-serif" font-size="11" fill="#555555" text-anchor="middle" >Mar</text>
<line x1="1087.5" y1="683" x2="1087.5" y2="686" stroke="#555555" stroke-width="1" shape-rendering="crispEdges"/>
<text x="1087.4" y="697" font-family="Liberation Sans, sans-serif" font-size="11" fill="#555555" text-anchor="middle" >Apr</text>
<line x1="1231.5" y1="683" x2="1231.5" y2="686" stroke="#555555" stroke-width="1" shape-rendering="crispEdges"/>
<text x="1231.4" y="697" font-family="Liberation Sans, sans-serif" font-size="11" fill="#555555" text-anchor="middle" >Jun</text>
<line x1="1374.5" y1="683" x2="1374.5" y2="686" stroke="#555555" stroke-width="1" shape-rendering="crispEdges"/>
<text x="1374.3" y="697" font-family="Liberation Sans, sans-serif" font-size="11" fill="#555555" text-anchor="middle" >Aug</text>
</svg>
</body></html>
